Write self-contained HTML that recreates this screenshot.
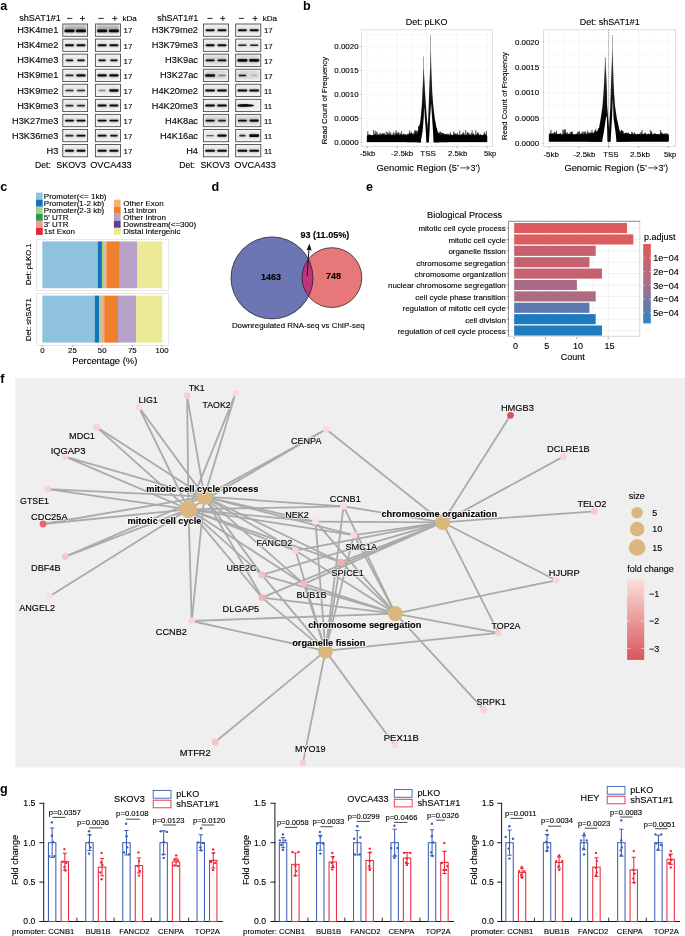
<!DOCTYPE html><html><head><meta charset="utf-8"><title>figure</title>
<style>html,body{margin:0;padding:0;background:#fff;}svg{display:block;will-change:transform;}text{font-family:"Liberation Sans",sans-serif;}</style></head><body>
<svg width="685" height="936" viewBox="0 0 685 936">
<defs>
<filter id="bl" x="-20%" y="-50%" width="140%" height="200%"><feGaussianBlur stdDeviation="0.7"/></filter>
<filter id="bl2" x="-20%" y="-50%" width="140%" height="200%"><feGaussianBlur stdDeviation="1.1"/></filter>
<linearGradient id="gpadj" x1="0" y1="0" x2="0" y2="1"><stop offset="0" stop-color="#e15759"/><stop offset="0.5" stop-color="#a9708a"/><stop offset="1" stop-color="#2c83c3"/></linearGradient>
<linearGradient id="gfc" x1="0" y1="0" x2="0" y2="1"><stop offset="0" stop-color="#fbe0dc"/><stop offset="1" stop-color="#d9555b"/></linearGradient>
<linearGradient id="gpk" gradientUnits="userSpaceOnUse" x1="0" y1="35" x2="0" y2="125"><stop offset="0" stop-color="#000" stop-opacity="0.5"/><stop offset="0.45" stop-color="#000" stop-opacity="0.8"/><stop offset="1" stop-color="#000" stop-opacity="1"/></linearGradient>
</defs>
<rect width="685" height="936" fill="#fff"/>
<text x="0.3" y="9.8" font-size="12.6" font-weight="bold" fill="#000">a</text>
<text x="302.9" y="9.6" font-size="12.6" font-weight="bold" fill="#000">b</text>
<text x="0.3" y="190.7" font-size="12.6" font-weight="bold" fill="#000">c</text>
<text x="211.6" y="191.4" font-size="12.6" font-weight="bold" fill="#000">d</text>
<text x="366.0" y="191.0" font-size="12.6" font-weight="bold" fill="#000">e</text>
<text x="0.3" y="382.8" font-size="12.6" font-weight="bold" fill="#000">f</text>
<text x="0.1" y="793.0" font-size="12.6" font-weight="bold" fill="#000">g</text>
<text x="19.30" y="20.92" font-size="9.0" textLength="41.50" lengthAdjust="spacingAndGlyphs" fill="#000" stroke="#000" stroke-width="0.12">shSAT1#1</text>
<line x1="67.10" y1="18.4" x2="72.30" y2="18.4" stroke="#111" stroke-width="0.9"/>
<line x1="98.50" y1="18.4" x2="103.70" y2="18.4" stroke="#111" stroke-width="0.9"/>
<path d="M80.00 18.4h5M82.50 15.9v5" stroke="#111" stroke-width="0.9" fill="none"/>
<path d="M112.30 18.4h5M114.80 15.9v5" stroke="#111" stroke-width="0.9" fill="none"/>
<text x="122.40" y="21.06" font-size="8.0" textLength="14.40" lengthAdjust="spacingAndGlyphs" fill="#000" stroke="#000" stroke-width="0.12">kDa</text>
<text x="58.30" y="33.31" font-size="9.25" text-anchor="end" fill="#000" stroke="#000" stroke-width="0.12">H3K4me1</text>
<rect x="62.80" y="24.00" width="24.8" height="12.3" fill="#f6f6f6"/>
<rect x="64.30" y="25.20" width="21.8" height="7.5" fill="#9a9a9a" opacity="0.7" filter="url(#bl2)"/>
<rect x="64.30" y="29.30" width="10.40" height="3.20" rx="1.6" fill="#222" opacity="0.35" filter="url(#bl2)"/>
<rect x="64.50" y="29.60" width="10.00" height="2.60" rx="1.3" fill="#0a0a0a" opacity="1" filter="url(#bl)"/>
<rect x="75.80" y="29.30" width="10.40" height="3.20" rx="1.6" fill="#222" opacity="0.35" filter="url(#bl2)"/>
<rect x="76.00" y="29.60" width="10.00" height="2.60" rx="1.3" fill="#0a0a0a" opacity="1" filter="url(#bl)"/>
<rect x="62.80" y="24.00" width="24.8" height="12.3" fill="none" stroke="#444" stroke-width="0.85"/>
<rect x="95.40" y="24.00" width="25.1" height="12.3" fill="#f6f6f6"/>
<rect x="96.90" y="25.20" width="22.1" height="7.5" fill="#9a9a9a" opacity="0.7" filter="url(#bl2)"/>
<rect x="96.90" y="29.30" width="10.40" height="3.20" rx="1.6" fill="#222" opacity="0.35" filter="url(#bl2)"/>
<rect x="97.10" y="29.60" width="10.00" height="2.60" rx="1.3" fill="#0a0a0a" opacity="1" filter="url(#bl)"/>
<rect x="108.70" y="29.30" width="10.40" height="3.20" rx="1.6" fill="#222" opacity="0.35" filter="url(#bl2)"/>
<rect x="108.90" y="29.60" width="10.00" height="2.60" rx="1.3" fill="#0a0a0a" opacity="1" filter="url(#bl)"/>
<rect x="95.40" y="24.00" width="25.1" height="12.3" fill="none" stroke="#444" stroke-width="0.85"/>
<text x="123.60" y="33.49" font-size="7.8" text-anchor="start" fill="#000" stroke="#000" stroke-width="0.12">17</text>
<text x="58.30" y="48.37" font-size="9.25" text-anchor="end" fill="#000" stroke="#000" stroke-width="0.12">H3K4me2</text>
<rect x="62.80" y="39.06" width="24.8" height="12.3" fill="#f6f6f6"/>
<rect x="64.30" y="40.26" width="21.8" height="9" fill="#9a9a9a" opacity="0.12" filter="url(#bl2)"/>
<rect x="64.80" y="44.06" width="9.40" height="2.50" rx="1.25" fill="#222" opacity="0.35" filter="url(#bl2)"/>
<rect x="65.00" y="44.36" width="9.00" height="1.90" rx="0.95" fill="#0a0a0a" opacity="1" filter="url(#bl)"/>
<rect x="76.30" y="44.06" width="9.40" height="2.50" rx="1.25" fill="#222" opacity="0.35" filter="url(#bl2)"/>
<rect x="76.50" y="44.36" width="9.00" height="1.90" rx="0.95" fill="#0a0a0a" opacity="1" filter="url(#bl)"/>
<rect x="62.80" y="39.06" width="24.8" height="12.3" fill="none" stroke="#444" stroke-width="0.85"/>
<rect x="95.40" y="39.06" width="25.1" height="12.3" fill="#f6f6f6"/>
<rect x="96.90" y="40.26" width="22.1" height="9" fill="#9a9a9a" opacity="0.12" filter="url(#bl2)"/>
<rect x="97.40" y="44.06" width="9.40" height="2.50" rx="1.25" fill="#222" opacity="0.35" filter="url(#bl2)"/>
<rect x="97.60" y="44.36" width="9.00" height="1.90" rx="0.95" fill="#0a0a0a" opacity="1" filter="url(#bl)"/>
<rect x="109.20" y="44.06" width="9.40" height="2.50" rx="1.25" fill="#222" opacity="0.35" filter="url(#bl2)"/>
<rect x="109.40" y="44.36" width="9.00" height="1.90" rx="0.95" fill="#0a0a0a" opacity="1" filter="url(#bl)"/>
<rect x="95.40" y="39.06" width="25.1" height="12.3" fill="none" stroke="#444" stroke-width="0.85"/>
<text x="123.60" y="48.55" font-size="7.8" text-anchor="start" fill="#000" stroke="#000" stroke-width="0.12">17</text>
<text x="58.30" y="63.43" font-size="9.25" text-anchor="end" fill="#000" stroke="#000" stroke-width="0.12">H3K4me3</text>
<rect x="62.80" y="54.12" width="24.8" height="12.3" fill="#f6f6f6"/>
<rect x="64.30" y="55.32" width="21.8" height="9" fill="#9a9a9a" opacity="0.12" filter="url(#bl2)"/>
<rect x="65.50" y="59.27" width="8.00" height="2.20" rx="1.1" fill="#222" opacity="0.33" filter="url(#bl2)"/>
<rect x="65.70" y="59.57" width="7.60" height="1.60" rx="0.8" fill="#0a0a0a" opacity="0.95" filter="url(#bl)"/>
<rect x="77.00" y="59.27" width="8.00" height="2.20" rx="1.1" fill="#222" opacity="0.33" filter="url(#bl2)"/>
<rect x="77.20" y="59.57" width="7.60" height="1.60" rx="0.8" fill="#0a0a0a" opacity="0.95" filter="url(#bl)"/>
<rect x="62.80" y="54.12" width="24.8" height="12.3" fill="none" stroke="#444" stroke-width="0.85"/>
<rect x="95.40" y="54.12" width="25.1" height="12.3" fill="#f6f6f6"/>
<rect x="96.90" y="55.32" width="22.1" height="9" fill="#9a9a9a" opacity="0.12" filter="url(#bl2)"/>
<rect x="98.10" y="59.27" width="8.00" height="2.20" rx="1.1" fill="#222" opacity="0.33" filter="url(#bl2)"/>
<rect x="98.30" y="59.57" width="7.60" height="1.60" rx="0.8" fill="#0a0a0a" opacity="0.95" filter="url(#bl)"/>
<rect x="109.90" y="59.27" width="8.00" height="2.20" rx="1.1" fill="#222" opacity="0.33" filter="url(#bl2)"/>
<rect x="110.10" y="59.57" width="7.60" height="1.60" rx="0.8" fill="#0a0a0a" opacity="0.95" filter="url(#bl)"/>
<rect x="95.40" y="54.12" width="25.1" height="12.3" fill="none" stroke="#444" stroke-width="0.85"/>
<text x="123.60" y="63.61" font-size="7.8" text-anchor="start" fill="#000" stroke="#000" stroke-width="0.12">17</text>
<text x="58.30" y="78.49" font-size="9.25" text-anchor="end" fill="#000" stroke="#000" stroke-width="0.12">H3K9me1</text>
<rect x="62.80" y="69.18" width="24.8" height="12.3" fill="#f6f6f6"/>
<rect x="64.30" y="70.38" width="21.8" height="9" fill="#9a9a9a" opacity="0.12" filter="url(#bl2)"/>
<rect x="65.20" y="74.28" width="8.60" height="2.30" rx="1.15" fill="#222" opacity="0.28" filter="url(#bl2)"/>
<rect x="65.40" y="74.58" width="8.20" height="1.70" rx="0.85" fill="#0a0a0a" opacity="0.8" filter="url(#bl)"/>
<rect x="76.10" y="73.98" width="9.80" height="2.90" rx="1.45" fill="#222" opacity="0.35" filter="url(#bl2)"/>
<rect x="76.30" y="74.28" width="9.40" height="2.30" rx="1.15" fill="#0a0a0a" opacity="1" filter="url(#bl)"/>
<rect x="62.80" y="69.18" width="24.8" height="12.3" fill="none" stroke="#444" stroke-width="0.85"/>
<rect x="95.40" y="69.18" width="25.1" height="12.3" fill="#f6f6f6"/>
<rect x="96.90" y="70.38" width="22.1" height="9" fill="#9a9a9a" opacity="0.12" filter="url(#bl2)"/>
<rect x="97.20" y="73.98" width="9.80" height="2.90" rx="1.45" fill="#222" opacity="0.35" filter="url(#bl2)"/>
<rect x="97.40" y="74.28" width="9.40" height="2.30" rx="1.15" fill="#0a0a0a" opacity="1" filter="url(#bl)"/>
<rect x="109.00" y="73.98" width="9.80" height="2.90" rx="1.45" fill="#222" opacity="0.35" filter="url(#bl2)"/>
<rect x="109.20" y="74.28" width="9.40" height="2.30" rx="1.15" fill="#0a0a0a" opacity="1" filter="url(#bl)"/>
<rect x="95.40" y="69.18" width="25.1" height="12.3" fill="none" stroke="#444" stroke-width="0.85"/>
<text x="123.60" y="78.67" font-size="7.8" text-anchor="start" fill="#000" stroke="#000" stroke-width="0.12">17</text>
<text x="58.30" y="93.55" font-size="9.25" text-anchor="end" fill="#000" stroke="#000" stroke-width="0.12">H3K9me2</text>
<rect x="62.80" y="84.24" width="24.8" height="12.3" fill="#f6f6f6"/>
<rect x="64.30" y="85.44" width="21.8" height="9" fill="#9a9a9a" opacity="0.12" filter="url(#bl2)"/>
<rect x="65.20" y="89.34" width="8.60" height="2.30" rx="1.15" fill="#222" opacity="0.28" filter="url(#bl2)"/>
<rect x="65.40" y="89.64" width="8.20" height="1.70" rx="0.85" fill="#0a0a0a" opacity="0.8" filter="url(#bl)"/>
<rect x="76.70" y="89.34" width="8.60" height="2.30" rx="1.15" fill="#222" opacity="0.28" filter="url(#bl2)"/>
<rect x="76.90" y="89.64" width="8.20" height="1.70" rx="0.85" fill="#0a0a0a" opacity="0.8" filter="url(#bl)"/>
<rect x="62.80" y="84.24" width="24.8" height="12.3" fill="none" stroke="#444" stroke-width="0.85"/>
<rect x="95.40" y="84.24" width="25.1" height="12.3" fill="#f6f6f6"/>
<rect x="96.90" y="85.44" width="22.1" height="9" fill="#9a9a9a" opacity="0.12" filter="url(#bl2)"/>
<rect x="98.30" y="89.44" width="7.60" height="2.10" rx="1.05" fill="#222" opacity="0.14" filter="url(#bl2)"/>
<rect x="98.50" y="89.74" width="7.20" height="1.50" rx="0.75" fill="#0a0a0a" opacity="0.4" filter="url(#bl)"/>
<rect x="109.00" y="89.04" width="9.80" height="2.90" rx="1.45" fill="#222" opacity="0.35" filter="url(#bl2)"/>
<rect x="109.20" y="89.34" width="9.40" height="2.30" rx="1.15" fill="#0a0a0a" opacity="1" filter="url(#bl)"/>
<rect x="95.40" y="84.24" width="25.1" height="12.3" fill="none" stroke="#444" stroke-width="0.85"/>
<text x="123.60" y="93.73" font-size="7.8" text-anchor="start" fill="#000" stroke="#000" stroke-width="0.12">17</text>
<text x="58.30" y="108.61" font-size="9.25" text-anchor="end" fill="#000" stroke="#000" stroke-width="0.12">H3K9me3</text>
<rect x="62.80" y="99.30" width="24.8" height="12.3" fill="#f6f6f6"/>
<rect x="64.30" y="100.50" width="21.8" height="9" fill="#9a9a9a" opacity="0.12" filter="url(#bl2)"/>
<rect x="65.20" y="104.40" width="8.60" height="2.30" rx="1.15" fill="#222" opacity="0.28" filter="url(#bl2)"/>
<rect x="65.40" y="104.70" width="8.20" height="1.70" rx="0.85" fill="#0a0a0a" opacity="0.8" filter="url(#bl)"/>
<rect x="76.70" y="104.40" width="8.60" height="2.30" rx="1.15" fill="#222" opacity="0.28" filter="url(#bl2)"/>
<rect x="76.90" y="104.70" width="8.20" height="1.70" rx="0.85" fill="#0a0a0a" opacity="0.8" filter="url(#bl)"/>
<rect x="62.80" y="99.30" width="24.8" height="12.3" fill="none" stroke="#444" stroke-width="0.85"/>
<rect x="95.40" y="99.30" width="25.1" height="12.3" fill="#f6f6f6"/>
<rect x="96.90" y="100.50" width="22.1" height="9" fill="#9a9a9a" opacity="0.12" filter="url(#bl2)"/>
<rect x="97.40" y="104.30" width="9.40" height="2.50" rx="1.25" fill="#222" opacity="0.35" filter="url(#bl2)"/>
<rect x="97.60" y="104.60" width="9.00" height="1.90" rx="0.95" fill="#0a0a0a" opacity="1" filter="url(#bl)"/>
<rect x="109.20" y="104.30" width="9.40" height="2.50" rx="1.25" fill="#222" opacity="0.35" filter="url(#bl2)"/>
<rect x="109.40" y="104.60" width="9.00" height="1.90" rx="0.95" fill="#0a0a0a" opacity="1" filter="url(#bl)"/>
<rect x="95.40" y="99.30" width="25.1" height="12.3" fill="none" stroke="#444" stroke-width="0.85"/>
<text x="123.60" y="108.79" font-size="7.8" text-anchor="start" fill="#000" stroke="#000" stroke-width="0.12">17</text>
<text x="58.30" y="123.67" font-size="9.25" text-anchor="end" fill="#000" stroke="#000" stroke-width="0.12">H3K27me3</text>
<rect x="62.80" y="114.36" width="24.8" height="12.3" fill="#f6f6f6"/>
<rect x="64.30" y="115.56" width="21.8" height="9" fill="#9a9a9a" opacity="0.12" filter="url(#bl2)"/>
<rect x="64.80" y="119.36" width="9.40" height="2.50" rx="1.25" fill="#222" opacity="0.35" filter="url(#bl2)"/>
<rect x="65.00" y="119.66" width="9.00" height="1.90" rx="0.95" fill="#0a0a0a" opacity="1" filter="url(#bl)"/>
<rect x="76.30" y="119.36" width="9.40" height="2.50" rx="1.25" fill="#222" opacity="0.35" filter="url(#bl2)"/>
<rect x="76.50" y="119.66" width="9.00" height="1.90" rx="0.95" fill="#0a0a0a" opacity="1" filter="url(#bl)"/>
<rect x="62.80" y="114.36" width="24.8" height="12.3" fill="none" stroke="#444" stroke-width="0.85"/>
<rect x="95.40" y="114.36" width="25.1" height="12.3" fill="#f6f6f6"/>
<rect x="96.90" y="115.56" width="22.1" height="9" fill="#9a9a9a" opacity="0.12" filter="url(#bl2)"/>
<rect x="97.40" y="119.36" width="9.40" height="2.50" rx="1.25" fill="#222" opacity="0.35" filter="url(#bl2)"/>
<rect x="97.60" y="119.66" width="9.00" height="1.90" rx="0.95" fill="#0a0a0a" opacity="1" filter="url(#bl)"/>
<rect x="109.20" y="119.36" width="9.40" height="2.50" rx="1.25" fill="#222" opacity="0.35" filter="url(#bl2)"/>
<rect x="109.40" y="119.66" width="9.00" height="1.90" rx="0.95" fill="#0a0a0a" opacity="1" filter="url(#bl)"/>
<rect x="95.40" y="114.36" width="25.1" height="12.3" fill="none" stroke="#444" stroke-width="0.85"/>
<text x="123.60" y="123.85" font-size="7.8" text-anchor="start" fill="#000" stroke="#000" stroke-width="0.12">17</text>
<text x="58.30" y="138.73" font-size="9.25" text-anchor="end" fill="#000" stroke="#000" stroke-width="0.12">H3K36me3</text>
<rect x="62.80" y="129.42" width="24.8" height="12.3" fill="#f6f6f6"/>
<rect x="64.30" y="130.62" width="21.8" height="9" fill="#9a9a9a" opacity="0.12" filter="url(#bl2)"/>
<rect x="65.20" y="134.52" width="8.60" height="2.30" rx="1.15" fill="#222" opacity="0.28" filter="url(#bl2)"/>
<rect x="65.40" y="134.82" width="8.20" height="1.70" rx="0.85" fill="#0a0a0a" opacity="0.8" filter="url(#bl)"/>
<rect x="76.30" y="134.42" width="9.40" height="2.50" rx="1.25" fill="#222" opacity="0.35" filter="url(#bl2)"/>
<rect x="76.50" y="134.72" width="9.00" height="1.90" rx="0.95" fill="#0a0a0a" opacity="1" filter="url(#bl)"/>
<rect x="62.80" y="129.42" width="24.8" height="12.3" fill="none" stroke="#444" stroke-width="0.85"/>
<rect x="95.40" y="129.42" width="25.1" height="12.3" fill="#f6f6f6"/>
<rect x="96.90" y="130.62" width="22.1" height="9" fill="#9a9a9a" opacity="0.12" filter="url(#bl2)"/>
<rect x="97.40" y="134.42" width="9.40" height="2.50" rx="1.25" fill="#222" opacity="0.35" filter="url(#bl2)"/>
<rect x="97.60" y="134.72" width="9.00" height="1.90" rx="0.95" fill="#0a0a0a" opacity="1" filter="url(#bl)"/>
<rect x="109.90" y="134.57" width="8.00" height="2.20" rx="1.1" fill="#222" opacity="0.33" filter="url(#bl2)"/>
<rect x="110.10" y="134.87" width="7.60" height="1.60" rx="0.8" fill="#0a0a0a" opacity="0.95" filter="url(#bl)"/>
<rect x="95.40" y="129.42" width="25.1" height="12.3" fill="none" stroke="#444" stroke-width="0.85"/>
<text x="123.60" y="138.91" font-size="7.8" text-anchor="start" fill="#000" stroke="#000" stroke-width="0.12">17</text>
<text x="58.30" y="153.79" font-size="9.25" text-anchor="end" fill="#000" stroke="#000" stroke-width="0.12">H3</text>
<rect x="62.80" y="144.48" width="24.8" height="12.3" fill="#f6f6f6"/>
<rect x="64.30" y="145.68" width="21.8" height="9" fill="#9a9a9a" opacity="0.12" filter="url(#bl2)"/>
<rect x="64.80" y="149.48" width="9.40" height="2.50" rx="1.25" fill="#222" opacity="0.35" filter="url(#bl2)"/>
<rect x="65.00" y="149.78" width="9.00" height="1.90" rx="0.95" fill="#0a0a0a" opacity="1" filter="url(#bl)"/>
<rect x="76.30" y="149.48" width="9.40" height="2.50" rx="1.25" fill="#222" opacity="0.35" filter="url(#bl2)"/>
<rect x="76.50" y="149.78" width="9.00" height="1.90" rx="0.95" fill="#0a0a0a" opacity="1" filter="url(#bl)"/>
<rect x="62.80" y="144.48" width="24.8" height="12.3" fill="none" stroke="#444" stroke-width="0.85"/>
<rect x="95.40" y="144.48" width="25.1" height="12.3" fill="#f6f6f6"/>
<rect x="96.90" y="145.68" width="22.1" height="9" fill="#9a9a9a" opacity="0.12" filter="url(#bl2)"/>
<rect x="97.40" y="149.48" width="9.40" height="2.50" rx="1.25" fill="#222" opacity="0.35" filter="url(#bl2)"/>
<rect x="97.60" y="149.78" width="9.00" height="1.90" rx="0.95" fill="#0a0a0a" opacity="1" filter="url(#bl)"/>
<rect x="109.20" y="149.48" width="9.40" height="2.50" rx="1.25" fill="#222" opacity="0.35" filter="url(#bl2)"/>
<rect x="109.40" y="149.78" width="9.00" height="1.90" rx="0.95" fill="#0a0a0a" opacity="1" filter="url(#bl)"/>
<rect x="95.40" y="144.48" width="25.1" height="12.3" fill="none" stroke="#444" stroke-width="0.85"/>
<text x="123.60" y="153.97" font-size="7.8" text-anchor="start" fill="#000" stroke="#000" stroke-width="0.12">17</text>
<text x="35.10" y="168.02" font-size="9" textLength="15.80" lengthAdjust="spacingAndGlyphs" fill="#000" stroke="#000" stroke-width="0.12">Det:</text>
<text x="56.30" y="168.02" font-size="9" textLength="29.60" lengthAdjust="spacingAndGlyphs" fill="#000" stroke="#000" stroke-width="0.12">SKOV3</text>
<text x="90.20" y="168.02" font-size="9" textLength="41.50" lengthAdjust="spacingAndGlyphs" fill="#000" stroke="#000" stroke-width="0.12">OVCA433</text>
<text x="157.20" y="20.92" font-size="9.0" textLength="40.90" lengthAdjust="spacingAndGlyphs" fill="#000" stroke="#000" stroke-width="0.12">shSAT1#1</text>
<line x1="207.40" y1="18.4" x2="212.60" y2="18.4" stroke="#111" stroke-width="0.9"/>
<line x1="238.80" y1="18.4" x2="244.00" y2="18.4" stroke="#111" stroke-width="0.9"/>
<path d="M220.30 18.4h5M222.80 15.9v5" stroke="#111" stroke-width="0.9" fill="none"/>
<path d="M252.60 18.4h5M255.10 15.9v5" stroke="#111" stroke-width="0.9" fill="none"/>
<text x="262.70" y="21.06" font-size="8.0" textLength="14.40" lengthAdjust="spacingAndGlyphs" fill="#000" stroke="#000" stroke-width="0.12">kDa</text>
<text x="198.00" y="33.31" font-size="9.25" text-anchor="end" fill="#000" stroke="#000" stroke-width="0.12">H3K79me2</text>
<rect x="203.40" y="24.00" width="25.2" height="12.3" fill="#f6f6f6"/>
<rect x="204.90" y="25.20" width="22.2" height="9" fill="#9a9a9a" opacity="0.12" filter="url(#bl2)"/>
<rect x="205.40" y="29.00" width="9.40" height="2.50" rx="1.25" fill="#222" opacity="0.35" filter="url(#bl2)"/>
<rect x="205.60" y="29.30" width="9.00" height="1.90" rx="0.95" fill="#0a0a0a" opacity="1" filter="url(#bl)"/>
<rect x="217.30" y="29.00" width="9.40" height="2.50" rx="1.25" fill="#222" opacity="0.35" filter="url(#bl2)"/>
<rect x="217.50" y="29.30" width="9.00" height="1.90" rx="0.95" fill="#0a0a0a" opacity="1" filter="url(#bl)"/>
<rect x="203.40" y="24.00" width="25.2" height="12.3" fill="none" stroke="#444" stroke-width="0.85"/>
<rect x="235.70" y="24.00" width="25.1" height="12.3" fill="#f6f6f6"/>
<rect x="237.20" y="25.20" width="22.1" height="9" fill="#9a9a9a" opacity="0.12" filter="url(#bl2)"/>
<rect x="237.70" y="29.00" width="9.40" height="2.50" rx="1.25" fill="#222" opacity="0.35" filter="url(#bl2)"/>
<rect x="237.90" y="29.30" width="9.00" height="1.90" rx="0.95" fill="#0a0a0a" opacity="1" filter="url(#bl)"/>
<rect x="249.50" y="29.00" width="9.40" height="2.50" rx="1.25" fill="#222" opacity="0.35" filter="url(#bl2)"/>
<rect x="249.70" y="29.30" width="9.00" height="1.90" rx="0.95" fill="#0a0a0a" opacity="1" filter="url(#bl)"/>
<rect x="235.70" y="24.00" width="25.1" height="12.3" fill="none" stroke="#444" stroke-width="0.85"/>
<text x="263.90" y="33.49" font-size="7.8" text-anchor="start" fill="#000" stroke="#000" stroke-width="0.12">17</text>
<text x="198.00" y="48.37" font-size="9.25" text-anchor="end" fill="#000" stroke="#000" stroke-width="0.12">H3K79me3</text>
<rect x="203.40" y="39.06" width="25.2" height="12.3" fill="#f6f6f6"/>
<rect x="204.90" y="40.26" width="22.2" height="9" fill="#9a9a9a" opacity="0.12" filter="url(#bl2)"/>
<rect x="205.40" y="44.06" width="9.40" height="2.50" rx="1.25" fill="#222" opacity="0.35" filter="url(#bl2)"/>
<rect x="205.60" y="44.36" width="9.00" height="1.90" rx="0.95" fill="#0a0a0a" opacity="1" filter="url(#bl)"/>
<rect x="217.30" y="44.06" width="9.40" height="2.50" rx="1.25" fill="#222" opacity="0.35" filter="url(#bl2)"/>
<rect x="217.50" y="44.36" width="9.00" height="1.90" rx="0.95" fill="#0a0a0a" opacity="1" filter="url(#bl)"/>
<rect x="203.40" y="39.06" width="25.2" height="12.3" fill="none" stroke="#444" stroke-width="0.85"/>
<rect x="235.70" y="39.06" width="25.1" height="12.3" fill="#f6f6f6"/>
<rect x="237.20" y="40.26" width="22.1" height="9" fill="#9a9a9a" opacity="0.12" filter="url(#bl2)"/>
<rect x="238.00" y="44.26" width="8.80" height="2.10" rx="1.05" fill="#222" opacity="0.30" filter="url(#bl2)"/>
<rect x="238.20" y="44.56" width="8.40" height="1.50" rx="0.75" fill="#0a0a0a" opacity="0.85" filter="url(#bl)"/>
<rect x="249.80" y="44.26" width="8.80" height="2.10" rx="1.05" fill="#222" opacity="0.30" filter="url(#bl2)"/>
<rect x="250.00" y="44.56" width="8.40" height="1.50" rx="0.75" fill="#0a0a0a" opacity="0.85" filter="url(#bl)"/>
<rect x="235.70" y="39.06" width="25.1" height="12.3" fill="none" stroke="#444" stroke-width="0.85"/>
<text x="263.90" y="48.55" font-size="7.8" text-anchor="start" fill="#000" stroke="#000" stroke-width="0.12">17</text>
<text x="198.00" y="63.43" font-size="9.25" text-anchor="end" fill="#000" stroke="#000" stroke-width="0.12">H3K9ac</text>
<rect x="203.40" y="54.12" width="25.2" height="12.3" fill="#f6f6f6"/>
<rect x="204.90" y="55.32" width="22.2" height="9" fill="#9a9a9a" opacity="0.3" filter="url(#bl2)"/>
<rect x="205.40" y="59.12" width="9.40" height="2.50" rx="1.25" fill="#222" opacity="0.35" filter="url(#bl2)"/>
<rect x="205.60" y="59.42" width="9.00" height="1.90" rx="0.95" fill="#0a0a0a" opacity="1" filter="url(#bl)"/>
<rect x="217.30" y="59.12" width="9.40" height="2.50" rx="1.25" fill="#222" opacity="0.35" filter="url(#bl2)"/>
<rect x="217.50" y="59.42" width="9.00" height="1.90" rx="0.95" fill="#0a0a0a" opacity="1" filter="url(#bl)"/>
<rect x="203.40" y="54.12" width="25.2" height="12.3" fill="none" stroke="#444" stroke-width="0.85"/>
<rect x="235.70" y="54.12" width="25.1" height="12.3" fill="#f6f6f6"/>
<rect x="237.20" y="55.32" width="22.1" height="9" fill="#9a9a9a" opacity="0.3" filter="url(#bl2)"/>
<rect x="237.20" y="58.77" width="10.40" height="3.20" rx="1.6" fill="#222" opacity="0.35" filter="url(#bl2)"/>
<rect x="237.40" y="59.07" width="10.00" height="2.60" rx="1.3" fill="#0a0a0a" opacity="1" filter="url(#bl)"/>
<rect x="249.00" y="58.77" width="10.40" height="3.20" rx="1.6" fill="#222" opacity="0.35" filter="url(#bl2)"/>
<rect x="249.20" y="59.07" width="10.00" height="2.60" rx="1.3" fill="#0a0a0a" opacity="1" filter="url(#bl)"/>
<rect x="235.70" y="54.12" width="25.1" height="12.3" fill="none" stroke="#444" stroke-width="0.85"/>
<text x="263.90" y="63.61" font-size="7.8" text-anchor="start" fill="#000" stroke="#000" stroke-width="0.12">17</text>
<text x="198.00" y="78.49" font-size="9.25" text-anchor="end" fill="#000" stroke="#000" stroke-width="0.12">H3K27ac</text>
<rect x="203.40" y="69.18" width="25.2" height="12.3" fill="#f6f6f6"/>
<rect x="204.90" y="70.38" width="22.2" height="9" fill="#9a9a9a" opacity="0.3" filter="url(#bl2)"/>
<rect x="204.90" y="73.83" width="10.40" height="3.20" rx="1.6" fill="#222" opacity="0.35" filter="url(#bl2)"/>
<rect x="205.10" y="74.13" width="10.00" height="2.60" rx="1.3" fill="#0a0a0a" opacity="1" filter="url(#bl)"/>
<rect x="218.20" y="74.38" width="7.60" height="2.10" rx="1.05" fill="#222" opacity="0.14" filter="url(#bl2)"/>
<rect x="218.40" y="74.68" width="7.20" height="1.50" rx="0.75" fill="#0a0a0a" opacity="0.4" filter="url(#bl)"/>
<rect x="203.40" y="69.18" width="25.2" height="12.3" fill="none" stroke="#444" stroke-width="0.85"/>
<rect x="235.70" y="69.18" width="25.1" height="12.3" fill="#f6f6f6"/>
<rect x="237.20" y="70.38" width="22.1" height="9" fill="#9a9a9a" opacity="0.3" filter="url(#bl2)"/>
<rect x="238.40" y="74.33" width="8.00" height="2.20" rx="1.1" fill="#222" opacity="0.33" filter="url(#bl2)"/>
<rect x="238.60" y="74.63" width="7.60" height="1.60" rx="0.8" fill="#0a0a0a" opacity="0.95" filter="url(#bl)"/>
<rect x="251.00" y="74.33" width="6.40" height="2.20" rx="1.1" fill="#222" opacity="0.05" filter="url(#bl2)"/>
<rect x="251.20" y="74.63" width="6.00" height="1.60" rx="0.8" fill="#0a0a0a" opacity="0.15" filter="url(#bl)"/>
<rect x="235.70" y="69.18" width="25.1" height="12.3" fill="none" stroke="#444" stroke-width="0.85"/>
<text x="263.90" y="78.67" font-size="7.8" text-anchor="start" fill="#000" stroke="#000" stroke-width="0.12">17</text>
<text x="198.00" y="93.55" font-size="9.25" text-anchor="end" fill="#000" stroke="#000" stroke-width="0.12">H4K20me2</text>
<rect x="203.40" y="84.24" width="25.2" height="12.3" fill="#f6f6f6"/>
<rect x="204.90" y="85.44" width="22.2" height="9" fill="#9a9a9a" opacity="0.12" filter="url(#bl2)"/>
<rect x="205.00" y="89.24" width="10.20" height="2.50" rx="1.25" fill="#222" opacity="0.35" filter="url(#bl2)"/>
<rect x="205.20" y="89.54" width="9.80" height="1.90" rx="0.95" fill="#0a0a0a" opacity="1" filter="url(#bl)"/>
<rect x="216.90" y="89.24" width="10.20" height="2.50" rx="1.25" fill="#222" opacity="0.35" filter="url(#bl2)"/>
<rect x="217.10" y="89.54" width="9.80" height="1.90" rx="0.95" fill="#0a0a0a" opacity="1" filter="url(#bl)"/>
<rect x="203.40" y="84.24" width="25.2" height="12.3" fill="none" stroke="#444" stroke-width="0.85"/>
<rect x="235.70" y="84.24" width="25.1" height="12.3" fill="#f6f6f6"/>
<rect x="237.20" y="85.44" width="22.1" height="9" fill="#9a9a9a" opacity="0.12" filter="url(#bl2)"/>
<rect x="237.30" y="89.24" width="10.20" height="2.50" rx="1.25" fill="#222" opacity="0.35" filter="url(#bl2)"/>
<rect x="237.50" y="89.54" width="9.80" height="1.90" rx="0.95" fill="#0a0a0a" opacity="1" filter="url(#bl)"/>
<rect x="249.10" y="89.24" width="10.20" height="2.50" rx="1.25" fill="#222" opacity="0.35" filter="url(#bl2)"/>
<rect x="249.30" y="89.54" width="9.80" height="1.90" rx="0.95" fill="#0a0a0a" opacity="1" filter="url(#bl)"/>
<rect x="235.70" y="84.24" width="25.1" height="12.3" fill="none" stroke="#444" stroke-width="0.85"/>
<text x="263.90" y="93.73" font-size="7.8" text-anchor="start" fill="#000" stroke="#000" stroke-width="0.12">11</text>
<text x="198.00" y="108.61" font-size="9.25" text-anchor="end" fill="#000" stroke="#000" stroke-width="0.12">H4K20me3</text>
<rect x="203.40" y="99.30" width="25.2" height="12.3" fill="#f6f6f6"/>
<rect x="204.90" y="100.50" width="22.2" height="9" fill="#9a9a9a" opacity="0.12" filter="url(#bl2)"/>
<rect x="205.00" y="104.30" width="10.20" height="2.50" rx="1.25" fill="#222" opacity="0.35" filter="url(#bl2)"/>
<rect x="205.20" y="104.60" width="9.80" height="1.90" rx="0.95" fill="#0a0a0a" opacity="1" filter="url(#bl)"/>
<rect x="216.90" y="104.30" width="10.20" height="2.50" rx="1.25" fill="#222" opacity="0.35" filter="url(#bl2)"/>
<rect x="217.10" y="104.60" width="9.80" height="1.90" rx="0.95" fill="#0a0a0a" opacity="1" filter="url(#bl)"/>
<rect x="203.40" y="99.30" width="25.2" height="12.3" fill="none" stroke="#444" stroke-width="0.85"/>
<rect x="235.70" y="99.30" width="25.1" height="12.3" fill="#f6f6f6"/>
<rect x="237.20" y="100.50" width="22.1" height="9" fill="#9a9a9a" opacity="0.12" filter="url(#bl2)"/>
<rect x="237.30" y="104.30" width="10.20" height="2.50" rx="1.25" fill="#222" opacity="0.35" filter="url(#bl2)"/>
<rect x="237.50" y="104.60" width="9.80" height="1.90" rx="0.95" fill="#0a0a0a" opacity="1" filter="url(#bl)"/>
<rect x="235.70" y="99.30" width="25.1" height="12.3" fill="none" stroke="#444" stroke-width="0.85"/>
<text x="263.90" y="108.79" font-size="7.8" text-anchor="start" fill="#000" stroke="#000" stroke-width="0.12">11</text>
<text x="198.00" y="123.67" font-size="9.25" text-anchor="end" fill="#000" stroke="#000" stroke-width="0.12">H4K8ac</text>
<rect x="203.40" y="114.36" width="25.2" height="12.3" fill="#f6f6f6"/>
<rect x="204.90" y="115.56" width="22.2" height="9" fill="#9a9a9a" opacity="0.3" filter="url(#bl2)"/>
<rect x="205.40" y="119.36" width="9.40" height="2.50" rx="1.25" fill="#222" opacity="0.35" filter="url(#bl2)"/>
<rect x="205.60" y="119.66" width="9.00" height="1.90" rx="0.95" fill="#0a0a0a" opacity="1" filter="url(#bl)"/>
<rect x="217.80" y="119.51" width="8.40" height="2.20" rx="1.1" fill="#222" opacity="0.30" filter="url(#bl2)"/>
<rect x="218.00" y="119.81" width="8.00" height="1.60" rx="0.8" fill="#0a0a0a" opacity="0.85" filter="url(#bl)"/>
<rect x="203.40" y="114.36" width="25.2" height="12.3" fill="none" stroke="#444" stroke-width="0.85"/>
<rect x="235.70" y="114.36" width="25.1" height="12.3" fill="#f6f6f6"/>
<rect x="237.20" y="115.56" width="22.1" height="9" fill="#9a9a9a" opacity="0.3" filter="url(#bl2)"/>
<rect x="237.70" y="119.36" width="9.40" height="2.50" rx="1.25" fill="#222" opacity="0.35" filter="url(#bl2)"/>
<rect x="237.90" y="119.66" width="9.00" height="1.90" rx="0.95" fill="#0a0a0a" opacity="1" filter="url(#bl)"/>
<rect x="249.30" y="119.16" width="9.80" height="2.90" rx="1.45" fill="#222" opacity="0.35" filter="url(#bl2)"/>
<rect x="249.50" y="119.46" width="9.40" height="2.30" rx="1.15" fill="#0a0a0a" opacity="1" filter="url(#bl)"/>
<rect x="235.70" y="114.36" width="25.1" height="12.3" fill="none" stroke="#444" stroke-width="0.85"/>
<text x="263.90" y="123.85" font-size="7.8" text-anchor="start" fill="#000" stroke="#000" stroke-width="0.12">11</text>
<text x="198.00" y="138.73" font-size="9.25" text-anchor="end" fill="#000" stroke="#000" stroke-width="0.12">H4K16ac</text>
<rect x="203.40" y="129.42" width="25.2" height="12.3" fill="#f6f6f6"/>
<rect x="204.90" y="130.62" width="22.2" height="9" fill="#9a9a9a" opacity="0.12" filter="url(#bl2)"/>
<rect x="206.10" y="134.67" width="8.00" height="2.00" rx="1.0" fill="#222" opacity="0.19" filter="url(#bl2)"/>
<rect x="206.30" y="134.97" width="7.60" height="1.40" rx="0.7" fill="#0a0a0a" opacity="0.55" filter="url(#bl)"/>
<rect x="217.10" y="134.22" width="9.80" height="2.90" rx="1.45" fill="#222" opacity="0.35" filter="url(#bl2)"/>
<rect x="217.30" y="134.52" width="9.40" height="2.30" rx="1.15" fill="#0a0a0a" opacity="1" filter="url(#bl)"/>
<rect x="203.40" y="129.42" width="25.2" height="12.3" fill="none" stroke="#444" stroke-width="0.85"/>
<rect x="235.70" y="129.42" width="25.1" height="12.3" fill="#f6f6f6"/>
<rect x="237.20" y="130.62" width="22.1" height="9" fill="#9a9a9a" opacity="0.12" filter="url(#bl2)"/>
<rect x="239.00" y="134.57" width="6.80" height="2.20" rx="1.1" fill="#222" opacity="0.28" filter="url(#bl2)"/>
<rect x="239.20" y="134.87" width="6.40" height="1.60" rx="0.8" fill="#0a0a0a" opacity="0.8" filter="url(#bl)"/>
<rect x="249.00" y="134.07" width="10.40" height="3.20" rx="1.6" fill="#222" opacity="0.35" filter="url(#bl2)"/>
<rect x="249.20" y="134.37" width="10.00" height="2.60" rx="1.3" fill="#0a0a0a" opacity="1" filter="url(#bl)"/>
<rect x="235.70" y="129.42" width="25.1" height="12.3" fill="none" stroke="#444" stroke-width="0.85"/>
<text x="263.90" y="138.91" font-size="7.8" text-anchor="start" fill="#000" stroke="#000" stroke-width="0.12">11</text>
<text x="198.00" y="153.79" font-size="9.25" text-anchor="end" fill="#000" stroke="#000" stroke-width="0.12">H4</text>
<rect x="203.40" y="144.48" width="25.2" height="12.3" fill="#f6f6f6"/>
<rect x="204.90" y="145.68" width="22.2" height="9" fill="#9a9a9a" opacity="0.12" filter="url(#bl2)"/>
<rect x="205.00" y="149.48" width="10.20" height="2.50" rx="1.25" fill="#222" opacity="0.35" filter="url(#bl2)"/>
<rect x="205.20" y="149.78" width="9.80" height="1.90" rx="0.95" fill="#0a0a0a" opacity="1" filter="url(#bl)"/>
<rect x="216.90" y="149.48" width="10.20" height="2.50" rx="1.25" fill="#222" opacity="0.35" filter="url(#bl2)"/>
<rect x="217.10" y="149.78" width="9.80" height="1.90" rx="0.95" fill="#0a0a0a" opacity="1" filter="url(#bl)"/>
<rect x="203.40" y="144.48" width="25.2" height="12.3" fill="none" stroke="#444" stroke-width="0.85"/>
<rect x="235.70" y="144.48" width="25.1" height="12.3" fill="#f6f6f6"/>
<rect x="237.20" y="145.68" width="22.1" height="9" fill="#9a9a9a" opacity="0.12" filter="url(#bl2)"/>
<rect x="237.30" y="149.48" width="10.20" height="2.50" rx="1.25" fill="#222" opacity="0.35" filter="url(#bl2)"/>
<rect x="237.50" y="149.78" width="9.80" height="1.90" rx="0.95" fill="#0a0a0a" opacity="1" filter="url(#bl)"/>
<rect x="249.10" y="149.48" width="10.20" height="2.50" rx="1.25" fill="#222" opacity="0.35" filter="url(#bl2)"/>
<rect x="249.30" y="149.78" width="9.80" height="1.90" rx="0.95" fill="#0a0a0a" opacity="1" filter="url(#bl)"/>
<rect x="235.70" y="144.48" width="25.1" height="12.3" fill="none" stroke="#444" stroke-width="0.85"/>
<text x="263.90" y="153.97" font-size="7.8" text-anchor="start" fill="#000" stroke="#000" stroke-width="0.12">11</text>
<text x="179.20" y="168.02" font-size="9" textLength="15.80" lengthAdjust="spacingAndGlyphs" fill="#000" stroke="#000" stroke-width="0.12">Det:</text>
<text x="200.40" y="168.02" font-size="9" textLength="29.60" lengthAdjust="spacingAndGlyphs" fill="#000" stroke="#000" stroke-width="0.12">SKOV3</text>
<text x="234.30" y="168.02" font-size="9" textLength="41.50" lengthAdjust="spacingAndGlyphs" fill="#000" stroke="#000" stroke-width="0.12">OVCA433</text>
<ellipse cx="246.30" cy="105.40" rx="8" ry="1.4" fill="#0a0a0a" filter="url(#bl)"/>
<rect x="361.3" y="29.8" width="131.40" height="116.80" fill="#fff" stroke="none"/>
<line x1="367.20" y1="29.8" x2="367.20" y2="146.6" stroke="#ebebeb" stroke-width="0.5"/>
<line x1="382.16" y1="29.8" x2="382.16" y2="146.6" stroke="#ebebeb" stroke-width="0.3"/>
<line x1="397.12" y1="29.8" x2="397.12" y2="146.6" stroke="#ebebeb" stroke-width="0.5"/>
<line x1="412.09" y1="29.8" x2="412.09" y2="146.6" stroke="#ebebeb" stroke-width="0.3"/>
<line x1="427.05" y1="29.8" x2="427.05" y2="146.6" stroke="#ebebeb" stroke-width="0.5"/>
<line x1="442.01" y1="29.8" x2="442.01" y2="146.6" stroke="#ebebeb" stroke-width="0.3"/>
<line x1="456.97" y1="29.8" x2="456.97" y2="146.6" stroke="#ebebeb" stroke-width="0.5"/>
<line x1="471.94" y1="29.8" x2="471.94" y2="146.6" stroke="#ebebeb" stroke-width="0.3"/>
<line x1="486.90" y1="29.8" x2="486.90" y2="146.6" stroke="#ebebeb" stroke-width="0.5"/>
<line x1="361.3" y1="142.30" x2="492.7" y2="142.30" stroke="#ebebeb" stroke-width="0.5"/>
<line x1="361.3" y1="130.33" x2="492.7" y2="130.33" stroke="#ebebeb" stroke-width="0.3"/>
<line x1="361.3" y1="118.35" x2="492.7" y2="118.35" stroke="#ebebeb" stroke-width="0.5"/>
<line x1="361.3" y1="106.38" x2="492.7" y2="106.38" stroke="#ebebeb" stroke-width="0.3"/>
<line x1="361.3" y1="94.40" x2="492.7" y2="94.40" stroke="#ebebeb" stroke-width="0.5"/>
<line x1="361.3" y1="82.43" x2="492.7" y2="82.43" stroke="#ebebeb" stroke-width="0.3"/>
<line x1="361.3" y1="70.45" x2="492.7" y2="70.45" stroke="#ebebeb" stroke-width="0.5"/>
<line x1="361.3" y1="58.48" x2="492.7" y2="58.48" stroke="#ebebeb" stroke-width="0.3"/>
<line x1="361.3" y1="46.50" x2="492.7" y2="46.50" stroke="#ebebeb" stroke-width="0.5"/>
<line x1="361.3" y1="34.53" x2="492.7" y2="34.53" stroke="#ebebeb" stroke-width="0.3"/>
<rect x="361.3" y="29.8" width="131.40" height="116.80" fill="none" stroke="#d0d0d0" stroke-width="0.7"/>
<line x1="367.20" y1="146.6" x2="367.20" y2="148.2" stroke="#555" stroke-width="0.5"/>
<line x1="397.12" y1="146.6" x2="397.12" y2="148.2" stroke="#555" stroke-width="0.5"/>
<line x1="427.05" y1="146.6" x2="427.05" y2="148.2" stroke="#555" stroke-width="0.5"/>
<line x1="456.97" y1="146.6" x2="456.97" y2="148.2" stroke="#555" stroke-width="0.5"/>
<line x1="486.90" y1="146.6" x2="486.90" y2="148.2" stroke="#555" stroke-width="0.5"/>
<line x1="359.7" y1="142.30" x2="361.3" y2="142.30" stroke="#999" stroke-width="0.5"/>
<text x="334.30" y="145.13" font-size="7.9" textLength="24.30" lengthAdjust="spacingAndGlyphs" fill="#000" stroke="#000" stroke-width="0.12">0.0000</text>
<line x1="359.7" y1="118.35" x2="361.3" y2="118.35" stroke="#999" stroke-width="0.5"/>
<text x="334.30" y="121.18" font-size="7.9" textLength="24.30" lengthAdjust="spacingAndGlyphs" fill="#000" stroke="#000" stroke-width="0.12">0.0005</text>
<line x1="359.7" y1="94.40" x2="361.3" y2="94.40" stroke="#999" stroke-width="0.5"/>
<text x="334.30" y="97.23" font-size="7.9" textLength="24.30" lengthAdjust="spacingAndGlyphs" fill="#000" stroke="#000" stroke-width="0.12">0.0010</text>
<line x1="359.7" y1="70.45" x2="361.3" y2="70.45" stroke="#999" stroke-width="0.5"/>
<text x="334.30" y="73.28" font-size="7.9" textLength="24.30" lengthAdjust="spacingAndGlyphs" fill="#000" stroke="#000" stroke-width="0.12">0.0015</text>
<line x1="359.7" y1="46.50" x2="361.3" y2="46.50" stroke="#999" stroke-width="0.5"/>
<text x="334.30" y="49.33" font-size="7.9" textLength="24.30" lengthAdjust="spacingAndGlyphs" fill="#000" stroke="#000" stroke-width="0.12">0.0020</text>
<polyline points="367.20,142.00 367.32,135.88 367.44,142.00 367.56,135.31 367.68,142.00 367.80,131.42 367.92,142.00 368.04,135.54 368.16,142.00 368.28,134.98 368.40,142.00 368.52,134.91 368.64,142.00 368.76,134.73 368.88,142.00 369.00,134.83 369.12,142.00 369.23,135.76 369.35,142.00 369.47,135.50 369.59,142.00 369.71,134.49 369.83,142.00 369.95,134.68 370.07,142.00 370.19,135.73 370.31,142.00 370.43,135.18 370.55,142.00 370.67,135.55 370.79,142.00 370.91,135.63 371.03,142.00 371.15,135.33 371.27,142.00 371.39,135.01 371.51,142.00 371.63,135.37 371.75,142.00 371.87,135.67 371.99,142.00 372.11,135.84 372.23,142.00 372.35,135.60 372.47,142.00 372.59,135.23 372.71,142.00 372.83,135.74 372.95,142.00 373.07,135.96 373.19,142.00 373.30,135.41 373.42,142.00 373.54,130.13 373.66,142.00 373.78,135.43 373.90,142.00 374.02,134.47 374.14,142.00 374.26,135.64 374.38,142.00 374.50,134.75 374.62,142.00 374.74,134.92 374.86,142.00 374.98,134.08 375.10,142.00 375.22,130.81 375.34,142.00 375.46,134.45 375.58,142.00 375.70,134.68 375.82,142.00 375.94,135.59 376.06,142.00 376.18,132.05 376.30,142.00 376.42,135.97 376.54,142.00 376.66,134.84 376.78,142.00 376.90,135.83 377.02,142.00 377.14,131.69 377.25,142.00 377.37,135.28 377.49,142.00 377.61,134.49 377.73,142.00 377.85,135.29 377.97,142.00 378.09,134.56 378.21,142.00 378.33,134.45 378.45,142.00 378.57,134.67 378.69,142.00 378.81,135.44 378.93,142.00 379.05,135.00 379.17,142.00 379.29,135.58 379.41,142.00 379.53,133.92 379.65,142.00 379.77,135.86 379.89,142.00 380.01,134.78 380.13,142.00 380.25,132.65 380.37,142.00 380.49,135.74 380.61,142.00 380.73,135.54 380.85,142.00 380.97,134.65 381.09,142.00 381.20,135.31 381.32,142.00 381.44,134.43 381.56,142.00 381.68,135.44 381.80,142.00 381.92,133.78 382.04,142.00 382.16,135.26 382.28,142.00 382.40,132.99 382.52,142.00 382.64,135.20 382.76,142.00 382.88,135.36 383.00,142.00 383.12,133.58 383.24,142.00 383.36,134.42 383.48,142.00 383.60,134.57 383.72,142.00 383.84,133.26 383.96,142.00 384.08,135.63 384.20,142.00 384.32,135.11 384.44,142.00 384.56,133.52 384.68,142.00 384.80,135.60 384.92,142.00 385.04,134.44 385.15,142.00 385.27,135.01 385.39,142.00 385.51,135.51 385.63,142.00 385.75,134.89 385.87,142.00 385.99,135.33 386.11,142.00 386.23,131.57 386.35,142.00 386.47,135.77 386.59,142.00 386.71,134.87 386.83,142.00 386.95,135.21 387.07,142.00 387.19,134.66 387.31,142.00 387.43,132.32 387.55,142.00 387.67,135.32 387.79,142.00 387.91,135.60 388.03,142.00 388.15,133.07 388.27,142.00 388.39,134.84 388.51,142.00 388.63,134.52 388.75,142.00 388.87,134.44 388.99,142.00 389.11,135.73 389.22,142.00 389.34,131.43 389.46,142.00 389.58,135.85 389.70,142.00 389.82,135.34 389.94,142.00 390.06,134.45 390.18,142.00 390.30,135.60 390.42,142.00 390.54,133.80 390.66,142.00 390.78,132.46 390.90,142.00 391.02,135.16 391.14,142.00 391.26,135.27 391.38,142.00 391.50,134.97 391.62,142.00 391.74,135.82 391.86,142.00 391.98,135.04 392.10,142.00 392.22,135.24 392.34,142.00 392.46,135.20 392.58,142.00 392.70,135.64 392.82,142.00 392.94,133.51 393.06,142.00 393.17,135.63 393.29,142.00 393.41,135.64 393.53,142.00 393.65,133.65 393.77,142.00 393.89,132.19 394.01,142.00 394.13,134.81 394.25,142.00 394.37,135.73 394.49,142.00 394.61,135.67 394.73,142.00 394.85,135.24 394.97,142.00 395.09,135.95 395.21,142.00 395.33,133.47 395.45,142.00 395.57,134.47 395.69,142.00 395.81,133.79 395.93,142.00 396.05,130.31 396.17,142.00 396.29,134.52 396.41,142.00 396.53,135.48 396.65,142.00 396.77,134.80 396.89,142.00 397.01,132.06 397.12,142.00 397.24,134.86 397.36,142.00 397.48,133.21 397.60,142.00 397.72,134.93 397.84,142.00 397.96,135.07 398.08,142.00 398.20,134.71 398.32,142.00 398.44,133.01 398.56,142.00 398.68,132.23 398.80,142.00 398.92,134.49 399.04,142.00 399.16,135.77 399.28,142.00 399.40,135.98 399.52,142.00 399.64,134.73 399.76,142.00 399.88,134.98 400.00,142.00 400.12,132.88 400.24,142.00 400.36,134.41 400.48,142.00 400.60,134.56 400.72,142.00 400.84,135.98 400.96,142.00 401.08,135.41 401.19,142.00 401.31,135.83 401.43,142.00 401.55,131.25 401.67,142.00 401.79,134.62 401.91,142.00 402.03,134.67 402.15,142.00 402.27,135.80 402.39,142.00 402.51,134.79 402.63,142.00 402.75,135.00 402.87,142.00 402.99,135.29 403.11,142.00 403.23,133.68 403.35,142.00 403.47,135.31 403.59,142.00 403.71,134.00 403.83,142.00 403.95,134.48 404.07,142.00 404.19,134.43 404.31,142.00 404.43,134.51 404.55,142.00 404.67,135.22 404.79,142.00 404.91,135.19 405.03,142.00 405.14,134.51 405.26,142.00 405.38,134.09 405.50,142.00 405.62,134.99 405.74,142.00 405.86,134.78 405.98,142.00 406.10,135.59 406.22,142.00 406.34,136.00 406.46,142.00 406.58,134.57 406.70,142.00 406.82,135.43 406.94,142.00 407.06,135.67 407.18,142.00 407.30,135.85 407.42,142.00 407.54,135.98 407.66,142.00 407.78,133.90 407.90,142.00 408.02,135.62 408.14,142.00 408.26,135.77 408.38,142.00 408.50,135.72 408.62,142.00 408.74,134.20 408.86,142.00 408.98,135.83 409.09,142.00 409.21,134.86 409.33,142.00 409.45,132.69 409.57,142.00 409.69,130.62 409.81,142.00 409.93,134.55 410.05,142.00 410.17,133.83 410.29,142.00 410.41,135.00 410.53,142.00 410.65,134.51 410.77,142.00 410.89,134.99 411.01,142.00 411.13,132.55 411.25,142.00 411.37,135.67 411.49,142.00 411.61,134.99 411.73,142.00 411.85,135.32 411.97,142.00 412.09,134.46 412.21,142.00 412.33,134.47 412.45,142.00 412.57,135.45 412.69,142.00 412.81,135.21 412.93,142.00 413.05,134.67 413.16,142.00 413.28,135.20 413.40,142.00 413.52,135.00 413.64,142.00 413.76,135.96 413.88,142.00 414.00,134.59 414.12,142.00 414.24,135.44 414.36,142.00 414.48,135.73 414.60,142.00 414.72,134.58 414.84,142.00 414.96,135.74 415.08,142.00 415.20,131.55 415.32,142.00 415.44,132.62 415.56,142.00 415.68,135.60 415.80,142.00 415.92,134.88 416.04,142.00 416.16,134.35 416.28,142.00 416.40,132.70 416.52,142.00 416.64,134.90 416.76,142.00 416.88,134.45 417.00,142.00 417.11,134.62 417.23,142.00 417.35,134.44 417.47,142.00 417.59,130.66 417.71,142.00 417.83,133.85 417.95,142.00 418.07,134.41 418.19,142.00 418.31,134.06 418.43,142.00 418.55,133.63 418.67,142.00 418.79,132.71 418.91,142.00 419.03,131.11 419.15,142.00 419.27,131.29 419.39,142.00 419.51,131.07 419.63,142.00 419.75,132.68 419.87,142.00 419.99,131.51 420.11,142.00 420.23,128.51 420.35,142.00 420.47,131.58 420.59,142.00 420.71,131.10 420.83,142.00 420.95,125.69 421.06,142.00 421.18,125.98 421.30,142.00 421.42,128.77 421.54,142.00 421.66,126.56 421.78,142.00 421.90,124.82 422.02,142.00 422.14,122.87 422.26,142.00 422.38,116.47 422.50,142.00 422.62,123.66 422.74,142.00 422.86,121.93 422.98,142.00 423.10,120.00 423.22,142.00 423.34,120.83 423.46,142.00 423.58,114.76 423.70,142.00 423.82,123.67 423.94,142.00 424.06,114.92 424.18,142.00 424.30,119.46 424.42,142.00 424.54,119.62 424.66,142.00 424.78,124.74 424.90,142.00 425.02,123.32 425.13,142.00 425.25,139.30 425.37,142.00 425.49,139.30 425.61,142.00 425.73,139.30 425.85,142.00 425.97,139.30 426.09,142.00 426.21,139.30 426.33,142.00 426.45,139.30 426.57,142.00 426.69,139.30 426.81,142.00 426.93,139.30 427.05,142.00 427.17,139.30 427.29,142.00 427.41,139.30 427.53,142.00 427.65,139.30 427.77,142.00 427.89,139.30 428.01,142.00 428.13,139.30 428.25,142.00 428.37,139.30 428.49,142.00 428.61,139.30 428.73,142.00 428.85,139.30 428.97,142.00 429.08,126.75 429.20,142.00 429.32,124.90 429.44,142.00 429.56,125.81 429.68,142.00 429.80,122.88 429.92,142.00 430.04,124.40 430.16,142.00 430.28,125.80 430.40,142.00 430.52,114.32 430.64,142.00 430.76,124.71 430.88,142.00 431.00,117.03 431.12,142.00 431.24,125.74 431.36,142.00 431.48,119.74 431.60,142.00 431.72,127.19 431.84,142.00 431.96,121.62 432.08,142.00 432.20,124.42 432.32,142.00 432.44,127.24 432.56,142.00 432.68,129.94 432.80,142.00 432.92,126.11 433.03,142.00 433.15,131.21 433.27,142.00 433.39,127.85 433.51,142.00 433.63,130.94 433.75,142.00 433.87,129.85 433.99,142.00 434.11,127.92 434.23,142.00 434.35,132.13 434.47,142.00 434.59,129.73 434.71,142.00 434.83,130.48 434.95,142.00 435.07,132.67 435.19,142.00 435.31,133.22 435.43,142.00 435.55,133.99 435.67,142.00 435.79,132.17 435.91,142.00 436.03,133.49 436.15,142.00 436.27,133.18 436.39,142.00 436.51,134.56 436.63,142.00 436.75,134.69 436.87,142.00 436.99,134.19 437.10,142.00 437.22,134.70 437.34,142.00 437.46,135.43 437.58,142.00 437.70,135.41 437.82,142.00 437.94,133.96 438.06,142.00 438.18,135.43 438.30,142.00 438.42,135.68 438.54,142.00 438.66,134.02 438.78,142.00 438.90,135.44 439.02,142.00 439.14,135.91 439.26,142.00 439.38,134.99 439.50,142.00 439.62,135.97 439.74,142.00 439.86,134.50 439.98,142.00 440.10,131.40 440.22,142.00 440.34,135.54 440.46,142.00 440.58,135.18 440.70,142.00 440.82,135.79 440.94,142.00 441.05,133.66 441.17,142.00 441.29,135.26 441.41,142.00 441.53,135.65 441.65,142.00 441.77,134.62 441.89,142.00 442.01,135.15 442.13,142.00 442.25,135.38 442.37,142.00 442.49,134.82 442.61,142.00 442.73,133.40 442.85,142.00 442.97,132.91 443.09,142.00 443.21,134.46 443.33,142.00 443.45,135.28 443.57,142.00 443.69,135.38 443.81,142.00 443.93,135.71 444.05,142.00 444.17,134.53 444.29,142.00 444.41,134.54 444.53,142.00 444.65,134.76 444.77,142.00 444.89,135.38 445.00,142.00 445.12,135.84 445.24,142.00 445.36,134.46 445.48,142.00 445.60,134.69 445.72,142.00 445.84,134.57 445.96,142.00 446.08,135.54 446.20,142.00 446.32,135.03 446.44,142.00 446.56,134.74 446.68,142.00 446.80,135.06 446.92,142.00 447.04,134.97 447.16,142.00 447.28,135.49 447.40,142.00 447.52,134.87 447.64,142.00 447.76,135.43 447.88,142.00 448.00,135.28 448.12,142.00 448.24,135.30 448.36,142.00 448.48,133.83 448.60,142.00 448.72,135.61 448.84,142.00 448.96,134.64 449.07,142.00 449.19,135.53 449.31,142.00 449.43,135.90 449.55,142.00 449.67,135.55 449.79,142.00 449.91,134.87 450.03,142.00 450.15,134.28 450.27,142.00 450.39,132.35 450.51,142.00 450.63,134.17 450.75,142.00 450.87,134.60 450.99,142.00 451.11,135.38 451.23,142.00 451.35,134.95 451.47,142.00 451.59,135.20 451.71,142.00 451.83,134.85 451.95,142.00 452.07,135.79 452.19,142.00 452.31,135.34 452.43,142.00 452.55,135.71 452.67,142.00 452.79,135.74 452.91,142.00 453.02,134.98 453.14,142.00 453.26,134.91 453.38,142.00 453.50,134.63 453.62,142.00 453.74,131.47 453.86,142.00 453.98,134.67 454.10,142.00 454.22,132.90 454.34,142.00 454.46,135.31 454.58,142.00 454.70,134.71 454.82,142.00 454.94,135.60 455.06,142.00 455.18,134.17 455.30,142.00 455.42,134.50 455.54,142.00 455.66,134.15 455.78,142.00 455.90,133.27 456.02,142.00 456.14,135.90 456.26,142.00 456.38,135.48 456.50,142.00 456.62,134.21 456.74,142.00 456.86,135.22 456.97,142.00 457.09,134.97 457.21,142.00 457.33,135.78 457.45,142.00 457.57,132.75 457.69,142.00 457.81,134.94 457.93,142.00 458.05,135.62 458.17,142.00 458.29,134.49 458.41,142.00 458.53,135.87 458.65,142.00 458.77,135.30 458.89,142.00 459.01,135.32 459.13,142.00 459.25,135.30 459.37,142.00 459.49,135.29 459.61,142.00 459.73,130.49 459.85,142.00 459.97,135.90 460.09,142.00 460.21,135.23 460.33,142.00 460.45,134.91 460.57,142.00 460.69,135.33 460.81,142.00 460.93,134.58 461.04,142.00 461.16,135.15 461.28,142.00 461.40,135.82 461.52,142.00 461.64,133.98 461.76,142.00 461.88,134.85 462.00,142.00 462.12,134.77 462.24,142.00 462.36,135.98 462.48,142.00 462.60,133.66 462.72,142.00 462.84,133.82 462.96,142.00 463.08,134.38 463.20,142.00 463.32,131.89 463.44,142.00 463.56,135.07 463.68,142.00 463.80,135.54 463.92,142.00 464.04,133.16 464.16,142.00 464.28,134.72 464.40,142.00 464.52,135.24 464.64,142.00 464.76,135.47 464.88,142.00 464.99,135.42 465.11,142.00 465.23,135.07 465.35,142.00 465.47,134.93 465.59,142.00 465.71,130.08 465.83,142.00 465.95,134.99 466.07,142.00 466.19,134.91 466.31,142.00 466.43,135.44 466.55,142.00 466.67,134.42 466.79,142.00 466.91,135.78 467.03,142.00 467.15,135.52 467.27,142.00 467.39,132.39 467.51,142.00 467.63,132.29 467.75,142.00 467.87,134.56 467.99,142.00 468.11,134.87 468.23,142.00 468.35,134.96 468.47,142.00 468.59,133.89 468.71,142.00 468.83,132.71 468.94,142.00 469.06,134.91 469.18,142.00 469.30,135.46 469.42,142.00 469.54,134.52 469.66,142.00 469.78,135.47 469.90,142.00 470.02,135.32 470.14,142.00 470.26,134.85 470.38,142.00 470.50,134.44 470.62,142.00 470.74,135.24 470.86,142.00 470.98,135.86 471.10,142.00 471.22,132.89 471.34,142.00 471.46,135.37 471.58,142.00 471.70,134.72 471.82,142.00 471.94,135.90 472.06,142.00 472.18,130.44 472.30,142.00 472.42,135.31 472.54,142.00 472.66,134.41 472.78,142.00 472.90,134.12 473.01,142.00 473.13,135.04 473.25,142.00 473.37,133.35 473.49,142.00 473.61,134.29 473.73,142.00 473.85,134.91 473.97,142.00 474.09,135.95 474.21,142.00 474.33,135.63 474.45,142.00 474.57,135.81 474.69,142.00 474.81,134.56 474.93,142.00 475.05,135.44 475.17,142.00 475.29,135.58 475.41,142.00 475.53,135.42 475.65,142.00 475.77,130.25 475.89,142.00 476.01,134.44 476.13,142.00 476.25,135.99 476.37,142.00 476.49,135.61 476.61,142.00 476.73,134.89 476.85,142.00 476.96,133.95 477.08,142.00 477.20,134.81 477.32,142.00 477.44,134.92 477.56,142.00 477.68,132.37 477.80,142.00 477.92,132.37 478.04,142.00 478.16,134.68 478.28,142.00 478.40,133.43 478.52,142.00 478.64,134.18 478.76,142.00 478.88,134.89 479.00,142.00 479.12,135.41 479.24,142.00 479.36,135.97 479.48,142.00 479.60,135.56 479.72,142.00 479.84,134.63 479.96,142.00 480.08,135.93 480.20,142.00 480.32,134.12 480.44,142.00 480.56,134.86 480.68,142.00 480.80,135.39 480.91,142.00 481.03,135.26 481.15,142.00 481.27,135.30 481.39,142.00 481.51,135.36 481.63,142.00 481.75,135.65 481.87,142.00 481.99,135.10 482.11,142.00 482.23,134.89 482.35,142.00 482.47,135.47 482.59,142.00 482.71,135.50 482.83,142.00 482.95,135.92 483.07,142.00 483.19,135.92 483.31,142.00 483.43,134.93 483.55,142.00 483.67,135.15 483.79,142.00 483.91,133.61 484.03,142.00 484.15,135.91 484.27,142.00 484.39,132.19 484.51,142.00 484.63,135.53 484.75,142.00 484.87,133.57 484.98,142.00 485.10,134.90 485.22,142.00 485.34,135.53 485.46,142.00 485.58,134.54 485.70,142.00 485.82,135.95 485.94,142.00 486.06,134.23 486.18,142.00 486.30,131.01 486.42,142.00 486.54,135.85 486.66,142.00 486.78,135.78 486.90,142.00" fill="none" stroke="#000" stroke-width="0.42" stroke-linejoin="miter"/>
<rect x="367.20" y="135.90" width="54.40" height="6.2" fill="#000"/>
<rect x="432.90" y="135.90" width="54.00" height="6.2" fill="#000"/>
<rect x="420.0" y="129.80" width="1" height="12.50" fill="#000" opacity="0.84"/>
<rect x="419.0" y="124.78" width="1" height="17.52" fill="#000" opacity="0.74"/>
<rect x="418.0" y="126.28" width="1" height="16.02" fill="#000" opacity="0.86"/>
<rect x="417.0" y="131.69" width="1" height="10.61" fill="#000" opacity="0.73"/>
<rect x="416.0" y="130.55" width="1" height="11.75" fill="#000" opacity="0.70"/>
<rect x="415.0" y="130.15" width="1" height="12.15" fill="#000" opacity="0.67"/>
<rect x="414.0" y="130.71" width="1" height="11.59" fill="#000" opacity="0.72"/>
<rect x="413.0" y="133.34" width="1" height="8.96" fill="#000" opacity="0.82"/>
<rect x="412.0" y="133.58" width="1" height="8.72" fill="#000" opacity="0.82"/>
<rect x="411.0" y="132.39" width="1" height="9.91" fill="#000" opacity="0.84"/>
<rect x="410.0" y="133.42" width="1" height="8.88" fill="#000" opacity="0.61"/>
<rect x="409.0" y="133.63" width="1" height="8.67" fill="#000" opacity="0.64"/>
<rect x="408.0" y="133.71" width="1" height="8.59" fill="#000" opacity="0.65"/>
<rect x="407.0" y="134.06" width="1" height="8.24" fill="#000" opacity="0.74"/>
<rect x="433.0" y="127.27" width="1" height="15.03" fill="#000" opacity="0.87"/>
<rect x="434.0" y="129.65" width="1" height="12.65" fill="#000" opacity="0.67"/>
<rect x="435.0" y="126.16" width="1" height="16.14" fill="#000" opacity="0.73"/>
<rect x="436.0" y="127.84" width="1" height="14.46" fill="#000" opacity="0.95"/>
<rect x="437.0" y="130.35" width="1" height="11.95" fill="#000" opacity="0.66"/>
<rect x="438.0" y="132.45" width="1" height="9.85" fill="#000" opacity="0.95"/>
<rect x="439.0" y="132.80" width="1" height="9.50" fill="#000" opacity="0.80"/>
<rect x="440.0" y="131.99" width="1" height="10.31" fill="#000" opacity="0.65"/>
<rect x="441.0" y="132.64" width="1" height="9.66" fill="#000" opacity="0.67"/>
<rect x="442.0" y="132.88" width="1" height="9.42" fill="#000" opacity="0.80"/>
<rect x="443.0" y="133.57" width="1" height="8.73" fill="#000" opacity="0.68"/>
<rect x="444.0" y="133.78" width="1" height="8.52" fill="#000" opacity="0.68"/>
<rect x="445.0" y="134.44" width="1" height="7.86" fill="#000" opacity="0.70"/>
<rect x="446.0" y="133.67" width="1" height="8.63" fill="#000" opacity="0.80"/>
<rect x="447.0" y="133.91" width="1" height="8.39" fill="#000" opacity="0.61"/>
<polygon points="423.12,56.50 423.12,67.80 422.85,80.40 422.25,93.00 421.65,105.70 420.50,118.30 418.75,130.90 417.35,137.00 417.35,142.30 428.65,142.30 428.45,137.00 428.15,130.90 427.00,118.30 426.10,105.70 425.25,93.00 424.60,80.40 423.88,67.80 423.88,56.50" fill="#000" opacity="0.28"/>
<polygon points="423.38,56.50 423.38,67.80 423.10,80.40 422.50,93.00 421.90,105.70 420.75,118.30 419.00,130.90 417.60,137.00 417.60,142.30 428.40,142.30 428.20,137.00 427.90,130.90 426.75,118.30 425.85,105.70 425.00,93.00 424.35,80.40 423.62,67.80 423.62,56.50" fill="url(#gpk)"/>
<polygon points="424.10,108.00 423.70,118.30 422.65,130.90 421.10,139.70 420.90,142.80 426.30,142.80 426.20,139.70 425.80,130.90 424.90,118.30 424.30,108.00" fill="#fff"/>
<polygon points="430.23,35.00 430.23,48.90 429.95,67.80 429.45,80.40 428.95,93.00 428.55,105.70 428.15,118.30 427.15,130.90 426.85,137.00 426.75,142.30 438.55,142.30 438.55,137.00 437.25,130.90 434.90,118.30 433.45,105.70 432.45,93.00 431.95,80.40 431.45,67.80 430.98,48.90 430.98,35.00" fill="#000" opacity="0.28"/>
<polygon points="430.48,35.00 430.48,48.90 430.20,67.80 429.70,80.40 429.20,93.00 428.80,105.70 428.40,118.30 427.40,130.90 427.10,137.00 427.00,142.30 438.30,142.30 438.30,137.00 437.00,130.90 434.65,118.30 433.20,105.70 432.20,93.00 431.70,80.40 431.20,67.80 430.73,48.90 430.73,35.00" fill="url(#gpk)"/>
<polygon points="431.00,104.50 430.00,118.30 429.60,130.90 429.00,139.70 428.90,142.80 433.50,142.80 433.40,139.70 433.00,130.90 432.10,118.30 431.20,104.50" fill="#fff"/>
<text x="426.60" y="24.80" font-size="8.95" text-anchor="middle" fill="#000" stroke="#000" stroke-width="0.12">Det: pLKO</text>
<text x="324.60" y="103.33" font-size="7.62" text-anchor="middle" fill="#000" stroke="#000" stroke-width="0.12" transform="rotate(-90 324.60 100.60)">Read Count of Frequency</text>
<text x="359.90" y="156.33" font-size="7.9" textLength="15.40" lengthAdjust="spacingAndGlyphs" fill="#000" stroke="#000" stroke-width="0.12">-5kb</text>
<text x="391.10" y="156.33" font-size="7.9" textLength="22.20" lengthAdjust="spacingAndGlyphs" fill="#000" stroke="#000" stroke-width="0.12">-2.5kb</text>
<text x="420.30" y="156.33" font-size="7.9" textLength="15.50" lengthAdjust="spacingAndGlyphs" fill="#000" stroke="#000" stroke-width="0.12">TSS</text>
<text x="448.00" y="156.33" font-size="7.9" textLength="19.30" lengthAdjust="spacingAndGlyphs" fill="#000" stroke="#000" stroke-width="0.12">2.5kb</text>
<text x="483.90" y="156.33" font-size="7.9" textLength="12.30" lengthAdjust="spacingAndGlyphs" fill="#000" stroke="#000" stroke-width="0.12">5kp</text>
<text x="376.50" y="170.93" font-size="9.3" textLength="82.60" lengthAdjust="spacingAndGlyphs" fill="#000" stroke="#000" stroke-width="0.12">Genomic Region (5’</text>
<path d="M460.30 167.9H469.10M466.70 165.9L469.40 167.9L466.70 169.9" stroke="#151515" stroke-width="0.75" fill="none"/>
<text x="470.80" y="170.93" font-size="9.3" textLength="9.30" lengthAdjust="spacingAndGlyphs" fill="#000" stroke="#000" stroke-width="0.12">3’)</text>
<rect x="543.4" y="29.8" width="132.00" height="116.80" fill="#fff" stroke="none"/>
<line x1="549.20" y1="29.8" x2="549.20" y2="146.6" stroke="#ebebeb" stroke-width="0.5"/>
<line x1="564.10" y1="29.8" x2="564.10" y2="146.6" stroke="#ebebeb" stroke-width="0.3"/>
<line x1="579.00" y1="29.8" x2="579.00" y2="146.6" stroke="#ebebeb" stroke-width="0.5"/>
<line x1="593.90" y1="29.8" x2="593.90" y2="146.6" stroke="#ebebeb" stroke-width="0.3"/>
<line x1="608.80" y1="29.8" x2="608.80" y2="146.6" stroke="#ebebeb" stroke-width="0.5"/>
<line x1="623.70" y1="29.8" x2="623.70" y2="146.6" stroke="#ebebeb" stroke-width="0.3"/>
<line x1="638.60" y1="29.8" x2="638.60" y2="146.6" stroke="#ebebeb" stroke-width="0.5"/>
<line x1="653.50" y1="29.8" x2="653.50" y2="146.6" stroke="#ebebeb" stroke-width="0.3"/>
<line x1="668.40" y1="29.8" x2="668.40" y2="146.6" stroke="#ebebeb" stroke-width="0.5"/>
<line x1="543.4" y1="143.40" x2="675.4" y2="143.40" stroke="#ebebeb" stroke-width="0.5"/>
<line x1="543.4" y1="130.70" x2="675.4" y2="130.70" stroke="#ebebeb" stroke-width="0.3"/>
<line x1="543.4" y1="118.00" x2="675.4" y2="118.00" stroke="#ebebeb" stroke-width="0.5"/>
<line x1="543.4" y1="105.30" x2="675.4" y2="105.30" stroke="#ebebeb" stroke-width="0.3"/>
<line x1="543.4" y1="92.60" x2="675.4" y2="92.60" stroke="#ebebeb" stroke-width="0.5"/>
<line x1="543.4" y1="79.90" x2="675.4" y2="79.90" stroke="#ebebeb" stroke-width="0.3"/>
<line x1="543.4" y1="67.20" x2="675.4" y2="67.20" stroke="#ebebeb" stroke-width="0.5"/>
<line x1="543.4" y1="54.50" x2="675.4" y2="54.50" stroke="#ebebeb" stroke-width="0.3"/>
<line x1="543.4" y1="41.80" x2="675.4" y2="41.80" stroke="#ebebeb" stroke-width="0.5"/>
<rect x="543.4" y="29.8" width="132.00" height="116.80" fill="none" stroke="#d0d0d0" stroke-width="0.7"/>
<line x1="549.20" y1="146.6" x2="549.20" y2="148.2" stroke="#555" stroke-width="0.5"/>
<line x1="579.00" y1="146.6" x2="579.00" y2="148.2" stroke="#555" stroke-width="0.5"/>
<line x1="608.80" y1="146.6" x2="608.80" y2="148.2" stroke="#555" stroke-width="0.5"/>
<line x1="638.60" y1="146.6" x2="638.60" y2="148.2" stroke="#555" stroke-width="0.5"/>
<line x1="668.40" y1="146.6" x2="668.40" y2="148.2" stroke="#555" stroke-width="0.5"/>
<line x1="541.8" y1="143.40" x2="543.4" y2="143.40" stroke="#999" stroke-width="0.5"/>
<text x="514.90" y="146.23" font-size="7.9" textLength="24.30" lengthAdjust="spacingAndGlyphs" fill="#000" stroke="#000" stroke-width="0.12">0.0000</text>
<line x1="541.8" y1="118.00" x2="543.4" y2="118.00" stroke="#999" stroke-width="0.5"/>
<text x="514.90" y="120.83" font-size="7.9" textLength="24.30" lengthAdjust="spacingAndGlyphs" fill="#000" stroke="#000" stroke-width="0.12">0.0005</text>
<line x1="541.8" y1="92.60" x2="543.4" y2="92.60" stroke="#999" stroke-width="0.5"/>
<text x="514.90" y="95.43" font-size="7.9" textLength="24.30" lengthAdjust="spacingAndGlyphs" fill="#000" stroke="#000" stroke-width="0.12">0.0010</text>
<line x1="541.8" y1="67.20" x2="543.4" y2="67.20" stroke="#999" stroke-width="0.5"/>
<text x="514.90" y="70.03" font-size="7.9" textLength="24.30" lengthAdjust="spacingAndGlyphs" fill="#000" stroke="#000" stroke-width="0.12">0.0015</text>
<line x1="541.8" y1="41.80" x2="543.4" y2="41.80" stroke="#999" stroke-width="0.5"/>
<text x="514.90" y="44.63" font-size="7.9" textLength="24.30" lengthAdjust="spacingAndGlyphs" fill="#000" stroke="#000" stroke-width="0.12">0.0020</text>
<polyline points="549.20,141.30 549.32,134.39 549.44,141.30 549.56,135.25 549.68,141.30 549.80,134.93 549.92,141.30 550.03,132.69 550.15,141.30 550.27,133.02 550.39,141.30 550.51,133.28 550.63,141.30 550.75,134.95 550.87,141.30 550.99,129.85 551.11,141.30 551.23,134.04 551.35,141.30 551.46,133.90 551.58,141.30 551.70,134.02 551.82,141.30 551.94,133.76 552.06,141.30 552.18,133.96 552.30,141.30 552.42,133.85 552.54,141.30 552.66,132.82 552.78,141.30 552.90,133.95 553.01,141.30 553.13,134.63 553.25,141.30 553.37,133.95 553.49,141.30 553.61,134.59 553.73,141.30 553.85,133.98 553.97,141.30 554.09,133.88 554.21,141.30 554.33,132.31 554.44,141.30 554.56,131.88 554.68,141.30 554.80,133.18 554.92,141.30 555.04,134.30 555.16,141.30 555.28,134.70 555.40,141.30 555.52,133.74 555.64,141.30 555.76,132.35 555.88,141.30 555.99,133.43 556.11,141.30 556.23,134.10 556.35,141.30 556.47,130.79 556.59,141.30 556.71,134.16 556.83,141.30 556.95,134.03 557.07,141.30 557.19,135.03 557.31,141.30 557.42,133.76 557.54,141.30 557.66,134.60 557.78,141.30 557.90,134.87 558.02,141.30 558.14,134.80 558.26,141.30 558.38,134.10 558.50,141.30 558.62,134.29 558.74,141.30 558.86,133.80 558.97,141.30 559.09,134.22 559.21,141.30 559.33,133.75 559.45,141.30 559.57,134.11 559.69,141.30 559.81,133.91 559.93,141.30 560.05,135.19 560.17,141.30 560.29,134.65 560.40,141.30 560.52,133.02 560.64,141.30 560.76,133.89 560.88,141.30 561.00,135.19 561.12,141.30 561.24,135.15 561.36,141.30 561.48,134.40 561.60,141.30 561.72,135.21 561.84,141.30 561.95,135.12 562.07,141.30 562.19,134.45 562.31,141.30 562.43,134.06 562.55,141.30 562.67,134.14 562.79,141.30 562.91,129.52 563.03,141.30 563.15,135.09 563.27,141.30 563.38,135.00 563.50,141.30 563.62,134.51 563.74,141.30 563.86,129.68 563.98,141.30 564.10,132.41 564.22,141.30 564.34,133.71 564.46,141.30 564.58,134.01 564.70,141.30 564.82,129.76 564.93,141.30 565.05,134.40 565.17,141.30 565.29,129.13 565.41,141.30 565.53,133.95 565.65,141.30 565.77,133.40 565.89,141.30 566.01,134.78 566.13,141.30 566.25,132.03 566.36,141.30 566.48,134.57 566.60,141.30 566.72,134.14 566.84,141.30 566.96,134.92 567.08,141.30 567.20,134.34 567.32,141.30 567.44,132.52 567.56,141.30 567.68,134.02 567.80,141.30 567.91,133.81 568.03,141.30 568.15,134.09 568.27,141.30 568.39,135.04 568.51,141.30 568.63,133.94 568.75,141.30 568.87,134.02 568.99,141.30 569.11,135.23 569.23,141.30 569.34,134.26 569.46,141.30 569.58,133.11 569.70,141.30 569.82,134.08 569.94,141.30 570.06,135.12 570.18,141.30 570.30,134.32 570.42,141.30 570.54,134.15 570.66,141.30 570.78,131.92 570.89,141.30 571.01,134.78 571.13,141.30 571.25,131.69 571.37,141.30 571.49,135.27 571.61,141.30 571.73,132.15 571.85,141.30 571.97,134.71 572.09,141.30 572.21,131.47 572.32,141.30 572.44,133.29 572.56,141.30 572.68,134.20 572.80,141.30 572.92,135.26 573.04,141.30 573.16,134.25 573.28,141.30 573.40,135.28 573.52,141.30 573.64,134.20 573.76,141.30 573.87,134.65 573.99,141.30 574.11,134.68 574.23,141.30 574.35,134.86 574.47,141.30 574.59,134.36 574.71,141.30 574.83,134.69 574.95,141.30 575.07,133.94 575.19,141.30 575.30,134.90 575.42,141.30 575.54,134.84 575.66,141.30 575.78,134.69 575.90,141.30 576.02,133.96 576.14,141.30 576.26,134.16 576.38,141.30 576.50,134.60 576.62,141.30 576.74,134.41 576.85,141.30 576.97,133.50 577.09,141.30 577.21,133.92 577.33,141.30 577.45,135.18 577.57,141.30 577.69,131.87 577.81,141.30 577.93,135.26 578.05,141.30 578.17,134.33 578.28,141.30 578.40,132.56 578.52,141.30 578.64,135.24 578.76,141.30 578.88,134.66 579.00,141.30 579.12,131.21 579.24,141.30 579.36,131.83 579.48,141.30 579.60,134.75 579.72,141.30 579.83,135.30 579.95,141.30 580.07,135.08 580.19,141.30 580.31,134.46 580.43,141.30 580.55,134.36 580.67,141.30 580.79,133.77 580.91,141.30 581.03,135.13 581.15,141.30 581.26,132.52 581.38,141.30 581.50,134.25 581.62,141.30 581.74,133.86 581.86,141.30 581.98,134.71 582.10,141.30 582.22,134.20 582.34,141.30 582.46,133.21 582.58,141.30 582.70,131.42 582.81,141.30 582.93,135.10 583.05,141.30 583.17,134.65 583.29,141.30 583.41,134.17 583.53,141.30 583.65,135.04 583.77,141.30 583.89,131.97 584.01,141.30 584.13,132.24 584.24,141.30 584.36,134.14 584.48,141.30 584.60,135.29 584.72,141.30 584.84,131.77 584.96,141.30 585.08,134.53 585.20,141.30 585.32,134.30 585.44,141.30 585.56,131.48 585.68,141.30 585.79,134.15 585.91,141.30 586.03,133.06 586.15,141.30 586.27,134.40 586.39,141.30 586.51,134.91 586.63,141.30 586.75,134.95 586.87,141.30 586.99,134.97 587.11,141.30 587.22,132.35 587.34,141.30 587.46,134.15 587.58,141.30 587.70,130.40 587.82,141.30 587.94,134.47 588.06,141.30 588.18,134.68 588.30,141.30 588.42,132.69 588.54,141.30 588.66,135.13 588.77,141.30 588.89,133.84 589.01,141.30 589.13,133.05 589.25,141.30 589.37,135.22 589.49,141.30 589.61,135.04 589.73,141.30 589.85,134.62 589.97,141.30 590.09,131.94 590.20,141.30 590.32,132.79 590.44,141.30 590.56,134.76 590.68,141.30 590.80,134.79 590.92,141.30 591.04,132.61 591.16,141.30 591.28,133.78 591.40,141.30 591.52,134.70 591.64,141.30 591.75,134.64 591.87,141.30 591.99,129.89 592.11,141.30 592.23,134.37 592.35,141.30 592.47,133.61 592.59,141.30 592.71,133.91 592.83,141.30 592.95,134.96 593.07,141.30 593.18,134.03 593.30,141.30 593.42,132.37 593.54,141.30 593.66,134.13 593.78,141.30 593.90,133.97 594.02,141.30 594.14,134.72 594.26,141.30 594.38,135.24 594.50,141.30 594.62,132.57 594.73,141.30 594.85,130.83 594.97,141.30 595.09,134.33 595.21,141.30 595.33,130.25 595.45,141.30 595.57,133.91 595.69,141.30 595.81,128.92 595.93,141.30 596.05,133.27 596.16,141.30 596.28,134.48 596.40,141.30 596.52,134.10 596.64,141.30 596.76,133.85 596.88,141.30 597.00,132.62 597.12,141.30 597.24,133.52 597.36,141.30 597.48,134.10 597.60,141.30 597.71,134.70 597.83,141.30 597.95,134.31 598.07,141.30 598.19,134.27 598.31,141.30 598.43,130.90 598.55,141.30 598.67,134.13 598.79,141.30 598.91,133.50 599.03,141.30 599.14,134.02 599.26,141.30 599.38,131.52 599.50,141.30 599.62,133.64 599.74,141.30 599.86,133.31 599.98,141.30 600.10,132.26 600.22,141.30 600.34,132.34 600.46,141.30 600.58,132.51 600.69,141.30 600.81,133.50 600.93,141.30 601.05,131.89 601.17,141.30 601.29,129.60 601.41,141.30 601.53,131.28 601.65,141.30 601.77,132.18 601.89,141.30 602.01,129.98 602.12,141.30 602.24,130.30 602.36,141.30 602.48,130.68 602.60,141.30 602.72,128.03 602.84,141.30 602.96,127.62 603.08,141.30 603.20,128.48 603.32,141.30 603.44,127.43 603.56,141.30 603.67,120.53 603.79,141.30 603.91,121.06 604.03,141.30 604.15,120.62 604.27,141.30 604.39,123.88 604.51,141.30 604.63,118.02 604.75,141.30 604.87,116.22 604.99,141.30 605.10,115.53 605.22,141.30 605.34,115.17 605.46,141.30 605.58,113.74 605.70,141.30 605.82,121.18 605.94,141.30 606.06,115.30 606.18,141.30 606.30,122.32 606.42,141.30 606.54,120.78 606.65,141.30 606.77,121.54 606.89,141.30 607.01,138.60 607.13,141.30 607.25,138.60 607.37,141.30 607.49,138.60 607.61,141.30 607.73,138.60 607.85,141.30 607.97,138.60 608.08,141.30 608.20,138.60 608.32,141.30 608.44,138.60 608.56,141.30 608.68,138.60 608.80,141.30 608.92,138.60 609.04,141.30 609.16,138.60 609.28,141.30 609.40,138.60 609.52,141.30 609.63,138.60 609.75,141.30 609.87,138.60 609.99,141.30 610.11,138.60 610.23,141.30 610.35,138.60 610.47,141.30 610.59,138.60 610.71,141.30 610.83,138.60 610.95,141.30 611.06,120.40 611.18,141.30 611.30,123.53 611.42,141.30 611.54,121.70 611.66,141.30 611.78,121.82 611.90,141.30 612.02,116.97 612.14,141.30 612.26,120.90 612.38,141.30 612.50,116.95 612.61,141.30 612.73,121.56 612.85,141.30 612.97,114.95 613.09,141.30 613.21,117.97 613.33,141.30 613.45,124.88 613.57,141.30 613.69,121.02 613.81,141.30 613.93,122.30 614.04,141.30 614.16,128.09 614.28,141.30 614.40,126.04 614.52,141.30 614.64,124.07 614.76,141.30 614.88,126.23 615.00,141.30 615.12,129.14 615.24,141.30 615.36,126.06 615.48,141.30 615.59,129.06 615.71,141.30 615.83,127.55 615.95,141.30 616.07,129.36 616.19,141.30 616.31,131.63 616.43,141.30 616.55,128.19 616.67,141.30 616.79,131.39 616.91,141.30 617.02,132.37 617.14,141.30 617.26,132.85 617.38,141.30 617.50,131.31 617.62,141.30 617.74,132.98 617.86,141.30 617.98,133.69 618.10,141.30 618.22,133.14 618.34,141.30 618.46,133.45 618.57,141.30 618.69,132.91 618.81,141.30 618.93,132.73 619.05,141.30 619.17,131.54 619.29,141.30 619.41,133.42 619.53,141.30 619.65,132.67 619.77,141.30 619.89,133.66 620.00,141.30 620.12,134.56 620.24,141.30 620.36,134.22 620.48,141.30 620.60,132.75 620.72,141.30 620.84,135.21 620.96,141.30 621.08,134.95 621.20,141.30 621.32,134.33 621.44,141.30 621.55,134.00 621.67,141.30 621.79,134.94 621.91,141.30 622.03,134.02 622.15,141.30 622.27,135.15 622.39,141.30 622.51,134.71 622.63,141.30 622.75,135.03 622.87,141.30 622.98,134.73 623.10,141.30 623.22,133.77 623.34,141.30 623.46,133.96 623.58,141.30 623.70,135.04 623.82,141.30 623.94,134.04 624.06,141.30 624.18,133.76 624.30,141.30 624.42,135.02 624.53,141.30 624.65,134.32 624.77,141.30 624.89,134.53 625.01,141.30 625.13,132.94 625.25,141.30 625.37,134.72 625.49,141.30 625.61,134.32 625.73,141.30 625.85,133.77 625.96,141.30 626.08,134.20 626.20,141.30 626.32,134.76 626.44,141.30 626.56,134.83 626.68,141.30 626.80,134.03 626.92,141.30 627.04,133.82 627.16,141.30 627.28,133.46 627.40,141.30 627.51,133.97 627.63,141.30 627.75,133.77 627.87,141.30 627.99,133.25 628.11,141.30 628.23,134.46 628.35,141.30 628.47,134.14 628.59,141.30 628.71,134.53 628.83,141.30 628.94,134.02 629.06,141.30 629.18,134.40 629.30,141.30 629.42,134.60 629.54,141.30 629.66,134.48 629.78,141.30 629.90,135.01 630.02,141.30 630.14,134.45 630.26,141.30 630.38,134.39 630.49,141.30 630.61,134.93 630.73,141.30 630.85,134.27 630.97,141.30 631.09,133.91 631.21,141.30 631.33,134.52 631.45,141.30 631.57,134.14 631.69,141.30 631.81,131.79 631.92,141.30 632.04,134.67 632.16,141.30 632.28,132.61 632.40,141.30 632.52,134.65 632.64,141.30 632.76,134.22 632.88,141.30 633.00,133.16 633.12,141.30 633.24,134.27 633.36,141.30 633.47,134.34 633.59,141.30 633.71,134.81 633.83,141.30 633.95,134.37 634.07,141.30 634.19,135.10 634.31,141.30 634.43,132.28 634.55,141.30 634.67,134.85 634.79,141.30 634.90,134.08 635.02,141.30 635.14,133.86 635.26,141.30 635.38,133.84 635.50,141.30 635.62,135.13 635.74,141.30 635.86,134.54 635.98,141.30 636.10,134.99 636.22,141.30 636.34,134.80 636.45,141.30 636.57,133.92 636.69,141.30 636.81,134.86 636.93,141.30 637.05,134.82 637.17,141.30 637.29,135.12 637.41,141.30 637.53,133.87 637.65,141.30 637.77,134.00 637.88,141.30 638.00,134.41 638.12,141.30 638.24,134.99 638.36,141.30 638.48,134.54 638.60,141.30 638.72,134.67 638.84,141.30 638.96,134.39 639.08,141.30 639.20,133.98 639.32,141.30 639.43,133.73 639.55,141.30 639.67,134.23 639.79,141.30 639.91,135.14 640.03,141.30 640.15,134.82 640.27,141.30 640.39,134.38 640.51,141.30 640.63,135.26 640.75,141.30 640.86,132.00 640.98,141.30 641.10,133.32 641.22,141.30 641.34,134.87 641.46,141.30 641.58,134.29 641.70,141.30 641.82,133.82 641.94,141.30 642.06,129.94 642.18,141.30 642.30,133.71 642.41,141.30 642.53,134.51 642.65,141.30 642.77,134.29 642.89,141.30 643.01,135.27 643.13,141.30 643.25,134.05 643.37,141.30 643.49,134.27 643.61,141.30 643.73,135.28 643.84,141.30 643.96,133.96 644.08,141.30 644.20,134.31 644.32,141.30 644.44,133.22 644.56,141.30 644.68,133.61 644.80,141.30 644.92,133.38 645.04,141.30 645.16,134.31 645.28,141.30 645.39,132.79 645.51,141.30 645.63,134.54 645.75,141.30 645.87,133.90 645.99,141.30 646.11,134.92 646.23,141.30 646.35,134.78 646.47,141.30 646.59,134.68 646.71,141.30 646.82,133.80 646.94,141.30 647.06,134.66 647.18,141.30 647.30,135.09 647.42,141.30 647.54,134.49 647.66,141.30 647.78,134.00 647.90,141.30 648.02,134.06 648.14,141.30 648.26,133.83 648.37,141.30 648.49,134.90 648.61,141.30 648.73,134.22 648.85,141.30 648.97,133.73 649.09,141.30 649.21,133.89 649.33,141.30 649.45,135.17 649.57,141.30 649.69,135.25 649.80,141.30 649.92,134.18 650.04,141.30 650.16,134.96 650.28,141.30 650.40,129.81 650.52,141.30 650.64,135.14 650.76,141.30 650.88,134.53 651.00,141.30 651.12,132.07 651.24,141.30 651.35,134.59 651.47,141.30 651.59,131.27 651.71,141.30 651.83,133.99 651.95,141.30 652.07,133.23 652.19,141.30 652.31,134.64 652.43,141.30 652.55,135.13 652.67,141.30 652.78,134.64 652.90,141.30 653.02,134.62 653.14,141.30 653.26,134.40 653.38,141.30 653.50,133.88 653.62,141.30 653.74,135.23 653.86,141.30 653.98,133.99 654.10,141.30 654.22,135.23 654.33,141.30 654.45,134.59 654.57,141.30 654.69,133.31 654.81,141.30 654.93,133.74 655.05,141.30 655.17,134.90 655.29,141.30 655.41,134.21 655.53,141.30 655.65,133.72 655.76,141.30 655.88,133.92 656.00,141.30 656.12,134.52 656.24,141.30 656.36,134.89 656.48,141.30 656.60,134.23 656.72,141.30 656.84,134.75 656.96,141.30 657.08,134.13 657.20,141.30 657.31,134.48 657.43,141.30 657.55,134.19 657.67,141.30 657.79,134.79 657.91,141.30 658.03,134.81 658.15,141.30 658.27,134.71 658.39,141.30 658.51,134.81 658.63,141.30 658.74,134.03 658.86,141.30 658.98,134.33 659.10,141.30 659.22,134.92 659.34,141.30 659.46,134.99 659.58,141.30 659.70,135.23 659.82,141.30 659.94,134.03 660.06,141.30 660.18,134.08 660.29,141.30 660.41,130.04 660.53,141.30 660.65,132.62 660.77,141.30 660.89,134.14 661.01,141.30 661.13,133.55 661.25,141.30 661.37,134.52 661.49,141.30 661.61,131.99 661.72,141.30 661.84,133.82 661.96,141.30 662.08,133.82 662.20,141.30 662.32,133.47 662.44,141.30 662.56,135.29 662.68,141.30 662.80,133.85 662.92,141.30 663.04,134.16 663.16,141.30 663.27,134.56 663.39,141.30 663.51,133.72 663.63,141.30 663.75,134.63 663.87,141.30 663.99,134.09 664.11,141.30 664.23,134.06 664.35,141.30 664.47,134.96 664.59,141.30 664.70,134.47 664.82,141.30 664.94,133.14 665.06,141.30 665.18,134.40 665.30,141.30 665.42,135.16 665.54,141.30 665.66,134.71 665.78,141.30 665.90,134.78 666.02,141.30 666.14,133.06 666.25,141.30 666.37,135.12 666.49,141.30 666.61,135.04 666.73,141.30 666.85,133.81 666.97,141.30 667.09,133.52 667.21,141.30 667.33,134.16 667.45,141.30 667.57,134.33 667.68,141.30 667.80,135.25 667.92,141.30 668.04,133.86 668.16,141.30 668.28,135.05 668.40,141.30" fill="none" stroke="#000" stroke-width="0.42" stroke-linejoin="miter"/>
<rect x="549.20" y="135.20" width="54.20" height="6.2" fill="#000"/>
<rect x="614.90" y="135.20" width="53.50" height="6.2" fill="#000"/>
<rect x="602.0" y="128.22" width="1" height="13.38" fill="#000" opacity="0.69"/>
<rect x="601.0" y="127.80" width="1" height="13.80" fill="#000" opacity="0.76"/>
<rect x="600.0" y="126.34" width="1" height="15.26" fill="#000" opacity="0.76"/>
<rect x="599.0" y="128.82" width="1" height="12.78" fill="#000" opacity="0.76"/>
<rect x="598.0" y="128.33" width="1" height="13.27" fill="#000" opacity="0.96"/>
<rect x="597.0" y="130.47" width="1" height="11.13" fill="#000" opacity="0.97"/>
<rect x="596.0" y="131.62" width="1" height="9.98" fill="#000" opacity="0.99"/>
<rect x="595.0" y="131.27" width="1" height="10.33" fill="#000" opacity="0.87"/>
<rect x="594.0" y="132.11" width="1" height="9.49" fill="#000" opacity="0.71"/>
<rect x="593.0" y="133.02" width="1" height="8.58" fill="#000" opacity="0.95"/>
<rect x="592.0" y="132.85" width="1" height="8.75" fill="#000" opacity="0.88"/>
<rect x="591.0" y="132.96" width="1" height="8.64" fill="#000" opacity="0.81"/>
<rect x="590.0" y="133.60" width="1" height="8.00" fill="#000" opacity="0.67"/>
<rect x="589.0" y="133.62" width="1" height="7.98" fill="#000" opacity="0.87"/>
<rect x="588.0" y="133.57" width="1" height="8.03" fill="#000" opacity="0.60"/>
<rect x="615.0" y="124.17" width="1" height="17.43" fill="#000" opacity="0.77"/>
<rect x="616.0" y="129.55" width="1" height="12.05" fill="#000" opacity="0.70"/>
<rect x="617.0" y="129.46" width="1" height="12.14" fill="#000" opacity="0.93"/>
<rect x="618.0" y="128.54" width="1" height="13.06" fill="#000" opacity="0.73"/>
<rect x="619.0" y="130.63" width="1" height="10.97" fill="#000" opacity="0.72"/>
<rect x="620.0" y="131.07" width="1" height="10.53" fill="#000" opacity="0.74"/>
<rect x="621.0" y="129.93" width="1" height="11.67" fill="#000" opacity="0.92"/>
<rect x="622.0" y="130.84" width="1" height="10.76" fill="#000" opacity="0.95"/>
<rect x="623.0" y="131.48" width="1" height="10.12" fill="#000" opacity="0.65"/>
<rect x="624.0" y="133.24" width="1" height="8.36" fill="#000" opacity="0.67"/>
<rect x="625.0" y="133.07" width="1" height="8.53" fill="#000" opacity="0.81"/>
<rect x="626.0" y="132.39" width="1" height="9.21" fill="#000" opacity="0.83"/>
<rect x="627.0" y="133.30" width="1" height="8.30" fill="#000" opacity="0.70"/>
<rect x="628.0" y="132.83" width="1" height="8.77" fill="#000" opacity="0.90"/>
<rect x="629.0" y="133.82" width="1" height="7.78" fill="#000" opacity="0.62"/>
<polygon points="604.92,57.10 604.65,67.80 604.05,80.40 603.35,93.00 602.35,105.70 600.60,118.30 598.35,130.90 597.15,136.00 597.15,141.60 609.85,141.60 609.75,136.00 609.55,130.90 608.30,118.30 607.35,105.70 607.15,93.00 606.65,80.40 605.95,67.80 605.67,57.10" fill="#000" opacity="0.28"/>
<polygon points="605.17,57.10 604.90,67.80 604.30,80.40 603.60,93.00 602.60,105.70 600.85,118.30 598.60,130.90 597.40,136.00 597.40,141.60 609.60,141.60 609.50,136.00 609.30,130.90 608.05,118.30 607.10,105.70 606.90,93.00 606.40,80.40 605.70,67.80 605.42,57.10" fill="url(#gpk)"/>
<polygon points="606.20,116.00 605.90,118.30 604.00,130.90 602.40,139.70 602.20,142.10 607.50,142.10 607.40,139.70 607.20,130.90 606.90,118.30 606.40,116.00" fill="#fff"/>
<polygon points="612.23,35.00 612.17,48.90 611.45,67.80 610.95,80.40 610.55,93.00 610.20,105.70 609.50,118.30 608.85,130.90 608.65,136.00 608.55,141.60 620.85,141.60 620.85,136.00 619.85,130.90 617.00,118.30 615.15,105.70 614.25,93.00 613.65,80.40 613.25,67.80 612.92,48.90 612.98,35.00" fill="#000" opacity="0.28"/>
<polygon points="612.48,35.00 612.42,48.90 611.70,67.80 611.20,80.40 610.80,93.00 610.45,105.70 609.75,118.30 609.10,130.90 608.90,136.00 608.80,141.60 620.60,141.60 620.60,136.00 619.60,130.90 616.75,118.30 614.90,105.70 614.00,93.00 613.40,80.40 613.00,67.80 612.67,48.90 612.73,35.00" fill="url(#gpk)"/>
<polygon points="612.80,100.00 612.00,118.30 611.20,130.90 610.70,139.70 610.60,142.10 616.40,142.10 616.30,139.70 615.40,130.90 613.50,118.30 613.00,100.00" fill="#fff"/>
<line x1="608.6" y1="29.8" x2="608.6" y2="146.6" stroke="#333" stroke-width="0.5" stroke-dasharray="1.1 1.0"/>
<text x="609.80" y="24.80" font-size="8.95" text-anchor="middle" fill="#000" stroke="#000" stroke-width="0.12">Det: shSAT1#1</text>
<text x="504.60" y="98.75" font-size="7.68" text-anchor="middle" fill="#000" stroke="#000" stroke-width="0.12" transform="rotate(-90 504.60 96.00)">Read Count of Frequency</text>
<text x="543.40" y="157.33" font-size="7.9" textLength="15.50" lengthAdjust="spacingAndGlyphs" fill="#000" stroke="#000" stroke-width="0.12">-5kb</text>
<text x="573.50" y="157.33" font-size="7.9" textLength="21.90" lengthAdjust="spacingAndGlyphs" fill="#000" stroke="#000" stroke-width="0.12">-2.5kb</text>
<text x="603.20" y="157.33" font-size="7.9" textLength="15.20" lengthAdjust="spacingAndGlyphs" fill="#000" stroke="#000" stroke-width="0.12">TSS</text>
<text x="630.10" y="157.33" font-size="7.9" textLength="19.90" lengthAdjust="spacingAndGlyphs" fill="#000" stroke="#000" stroke-width="0.12">2.5kb</text>
<text x="664.00" y="157.33" font-size="7.9" textLength="12.20" lengthAdjust="spacingAndGlyphs" fill="#000" stroke="#000" stroke-width="0.12">5kp</text>
<text x="564.40" y="170.93" font-size="9.3" textLength="82.60" lengthAdjust="spacingAndGlyphs" fill="#000" stroke="#000" stroke-width="0.12">Genomic Region (5’</text>
<path d="M648.20 167.9H657.00M654.60 165.9L657.30 167.9L654.60 169.9" stroke="#151515" stroke-width="0.75" fill="none"/>
<text x="658.70" y="170.93" font-size="9.3" textLength="9.30" lengthAdjust="spacingAndGlyphs" fill="#000" stroke="#000" stroke-width="0.12">3’)</text>
<rect x="36" y="192.60" width="6.7" height="7.05" fill="#8fc3dd"/>
<text x="43.80" y="199.16" font-size="8.0" text-anchor="start" fill="#000" stroke="#000" stroke-width="0.12">Promoter(&lt;= 1kb)</text>
<rect x="36" y="199.65" width="6.7" height="7.05" fill="#1473b8"/>
<text x="43.80" y="206.21" font-size="8.0" text-anchor="start" fill="#000" stroke="#000" stroke-width="0.12">Promoter(1-2 kb)</text>
<rect x="36" y="206.70" width="6.7" height="7.05" fill="#a8d08d"/>
<text x="43.80" y="213.26" font-size="8.0" text-anchor="start" fill="#000" stroke="#000" stroke-width="0.12">Promoter(2-3 kb)</text>
<rect x="36" y="213.75" width="6.7" height="7.05" fill="#2e9a48"/>
<text x="43.80" y="220.31" font-size="8.0" text-anchor="start" fill="#000" stroke="#000" stroke-width="0.12">5' UTR</text>
<rect x="36" y="220.80" width="6.7" height="7.05" fill="#f29a97"/>
<text x="43.80" y="227.36" font-size="8.0" text-anchor="start" fill="#000" stroke="#000" stroke-width="0.12">3' UTR</text>
<rect x="36" y="227.85" width="6.7" height="7.05" fill="#e02a2f"/>
<text x="43.80" y="234.41" font-size="8.0" text-anchor="start" fill="#000" stroke="#000" stroke-width="0.12">1st Exon</text>
<rect x="113.9" y="199.65" width="6.7" height="7.05" fill="#f5b26b"/>
<text x="123.20" y="206.21" font-size="8.0" text-anchor="start" fill="#000" stroke="#000" stroke-width="0.12">Other Exon</text>
<rect x="113.9" y="206.70" width="6.7" height="7.05" fill="#f07f2e"/>
<text x="123.20" y="213.26" font-size="8.0" text-anchor="start" fill="#000" stroke="#000" stroke-width="0.12">1st Intron</text>
<rect x="113.9" y="213.75" width="6.7" height="7.05" fill="#b8a2c9"/>
<text x="123.20" y="220.31" font-size="8.0" text-anchor="start" fill="#000" stroke="#000" stroke-width="0.12">Other Intron</text>
<rect x="113.9" y="220.80" width="6.7" height="7.05" fill="#5e3c99"/>
<text x="123.20" y="227.36" font-size="8.0" text-anchor="start" fill="#000" stroke="#000" stroke-width="0.12">Downstream(&lt;=300)</text>
<rect x="113.9" y="227.85" width="6.7" height="7.05" fill="#ecea95"/>
<text x="123.20" y="234.41" font-size="8.0" text-anchor="start" fill="#000" stroke="#000" stroke-width="0.12">Distal Intergenic</text>
<rect x="36.5" y="239.3" width="132.3" height="51.00" fill="#fff" stroke="#d6d6d6" stroke-width="0.6"/>
<line x1="42.3" y1="239.3" x2="42.3" y2="290.3" stroke="#ececec" stroke-width="0.5"/>
<line x1="72.2" y1="239.3" x2="72.2" y2="290.3" stroke="#ececec" stroke-width="0.5"/>
<line x1="102.15" y1="239.3" x2="102.15" y2="290.3" stroke="#ececec" stroke-width="0.5"/>
<line x1="132.1" y1="239.3" x2="132.1" y2="290.3" stroke="#ececec" stroke-width="0.5"/>
<line x1="162.0" y1="239.3" x2="162.0" y2="290.3" stroke="#ececec" stroke-width="0.5"/>
<rect x="42.34" y="241.4" width="55.62" height="46.80" fill="#8fc3dd"/>
<rect x="97.81" y="241.4" width="4.24" height="46.80" fill="#1473b8"/>
<rect x="101.90" y="241.4" width="2.78" height="46.80" fill="#a8d08d"/>
<rect x="104.53" y="241.4" width="1.32" height="46.80" fill="#f29a97"/>
<rect x="105.69" y="241.4" width="1.32" height="46.80" fill="#f5b26b"/>
<rect x="106.86" y="241.4" width="13.00" height="46.80" fill="#f07f2e"/>
<rect x="119.71" y="241.4" width="17.67" height="46.80" fill="#b8a2c9"/>
<rect x="137.23" y="241.4" width="24.97" height="46.80" fill="#ecea95"/>
<rect x="36.5" y="293.6" width="132.3" height="51.70" fill="#fff" stroke="#d6d6d6" stroke-width="0.6"/>
<line x1="42.3" y1="293.6" x2="42.3" y2="345.3" stroke="#ececec" stroke-width="0.5"/>
<line x1="72.2" y1="293.6" x2="72.2" y2="345.3" stroke="#ececec" stroke-width="0.5"/>
<line x1="102.15" y1="293.6" x2="102.15" y2="345.3" stroke="#ececec" stroke-width="0.5"/>
<line x1="132.1" y1="293.6" x2="132.1" y2="345.3" stroke="#ececec" stroke-width="0.5"/>
<line x1="162.0" y1="293.6" x2="162.0" y2="345.3" stroke="#ececec" stroke-width="0.5"/>
<rect x="42.34" y="295.6" width="52.70" height="47.00" fill="#8fc3dd"/>
<rect x="94.89" y="295.6" width="4.24" height="47.00" fill="#1473b8"/>
<rect x="98.98" y="295.6" width="2.78" height="47.00" fill="#a8d08d"/>
<rect x="101.61" y="295.6" width="1.32" height="47.00" fill="#f29a97"/>
<rect x="102.77" y="295.6" width="1.61" height="47.00" fill="#f5b26b"/>
<rect x="104.23" y="295.6" width="13.87" height="47.00" fill="#f07f2e"/>
<rect x="117.96" y="295.6" width="18.25" height="47.00" fill="#b8a2c9"/>
<rect x="136.06" y="295.6" width="26.14" height="47.00" fill="#ecea95"/>
<text x="28.10" y="267.00" font-size="7.55" text-anchor="middle" fill="#000" stroke="#000" stroke-width="0.12" transform="rotate(-90 28.10 264.30)">Det: pLKO.1</text>
<text x="28.10" y="322.33" font-size="7.62" text-anchor="middle" fill="#000" stroke="#000" stroke-width="0.12" transform="rotate(-90 28.10 319.60)">Det: shSAT1</text>
<line x1="42.3" y1="345.3" x2="42.3" y2="346.9" stroke="#555" stroke-width="0.5"/>
<text x="42.30" y="353.19" font-size="7.8" text-anchor="middle" fill="#000" stroke="#000" stroke-width="0.12">0</text>
<line x1="72.4" y1="345.3" x2="72.4" y2="346.9" stroke="#555" stroke-width="0.5"/>
<text x="72.40" y="353.19" font-size="7.8" text-anchor="middle" fill="#000" stroke="#000" stroke-width="0.12">25</text>
<line x1="102.2" y1="345.3" x2="102.2" y2="346.9" stroke="#555" stroke-width="0.5"/>
<text x="102.20" y="353.19" font-size="7.8" text-anchor="middle" fill="#000" stroke="#000" stroke-width="0.12">50</text>
<line x1="132.3" y1="345.3" x2="132.3" y2="346.9" stroke="#555" stroke-width="0.5"/>
<text x="132.30" y="353.19" font-size="7.8" text-anchor="middle" fill="#000" stroke="#000" stroke-width="0.12">75</text>
<line x1="162.0" y1="345.3" x2="162.0" y2="346.9" stroke="#555" stroke-width="0.5"/>
<text x="162.00" y="353.19" font-size="7.8" text-anchor="middle" fill="#000" stroke="#000" stroke-width="0.12">100</text>
<text x="104.70" y="363.77" font-size="9.4" text-anchor="middle" fill="#000" stroke="#000" stroke-width="0.12">Percentage (%)</text>
<clipPath id="cpv"><circle cx="272" cy="277.9" r="41"/></clipPath>
<circle cx="272" cy="277.9" r="41" fill="#6b76b2"/>
<circle cx="331.9" cy="277.6" r="29.9" fill="#e8777a"/>
<circle cx="331.9" cy="277.6" r="29.9" fill="#c0347e" clip-path="url(#cpv)"/>
<circle cx="272" cy="277.9" r="41" fill="none" stroke="#1d1d1d" stroke-width="0.75"/>
<circle cx="331.9" cy="277.6" r="29.9" fill="none" stroke="#1d1d1d" stroke-width="0.75"/>
<text x="271.00" y="280.22" font-size="9.0" text-anchor="middle" font-weight="bold" fill="#000" stroke="#000" stroke-width="0.12">1463</text>
<text x="333.50" y="279.12" font-size="9.0" text-anchor="middle" font-weight="bold" fill="#000" stroke="#000" stroke-width="0.12">748</text>
<text x="300.50" y="237.76" font-size="9.1" textLength="48.80" lengthAdjust="spacingAndGlyphs" font-weight="bold" fill="#000" stroke="#000" stroke-width="0.12">93 (11.05%)</text>
<line x1="307.2" y1="275.5" x2="309.0" y2="248" stroke="#111" stroke-width="1.0"/>
<polygon points="309.35,243.5 306.5,250.4 309.0,249.4 311.7,250.7" fill="#111"/>
<text x="231.90" y="328.23" font-size="7.9" textLength="132.80" lengthAdjust="spacingAndGlyphs" fill="#000" stroke="#000" stroke-width="0.12">Downregulated RNA-seq vs ChIP-seq</text>
<text x="464.60" y="218.49" font-size="9.2" text-anchor="middle" fill="#000" stroke="#000" stroke-width="0.12">Biological Process</text>
<rect x="508.4" y="221.3" width="131.3" height="115.9" fill="#fff"/>
<line x1="514.20" y1="221.3" x2="514.20" y2="337.2" stroke="#e6e6e6" stroke-width="0.55"/>
<line x1="529.88" y1="221.3" x2="529.88" y2="337.2" stroke="#e6e6e6" stroke-width="0.3"/>
<line x1="545.55" y1="221.3" x2="545.55" y2="337.2" stroke="#e6e6e6" stroke-width="0.55"/>
<line x1="561.23" y1="221.3" x2="561.23" y2="337.2" stroke="#e6e6e6" stroke-width="0.3"/>
<line x1="576.90" y1="221.3" x2="576.90" y2="337.2" stroke="#e6e6e6" stroke-width="0.55"/>
<line x1="592.58" y1="221.3" x2="592.58" y2="337.2" stroke="#e6e6e6" stroke-width="0.3"/>
<line x1="608.25" y1="221.3" x2="608.25" y2="337.2" stroke="#e6e6e6" stroke-width="0.55"/>
<line x1="623.93" y1="221.3" x2="623.93" y2="337.2" stroke="#e6e6e6" stroke-width="0.3"/>
<line x1="508.4" y1="228.10" x2="639.7" y2="228.10" stroke="#e6e6e6" stroke-width="0.55"/>
<line x1="508.4" y1="239.49" x2="639.7" y2="239.49" stroke="#e6e6e6" stroke-width="0.55"/>
<line x1="508.4" y1="250.88" x2="639.7" y2="250.88" stroke="#e6e6e6" stroke-width="0.55"/>
<line x1="508.4" y1="262.27" x2="639.7" y2="262.27" stroke="#e6e6e6" stroke-width="0.55"/>
<line x1="508.4" y1="273.66" x2="639.7" y2="273.66" stroke="#e6e6e6" stroke-width="0.55"/>
<line x1="508.4" y1="285.05" x2="639.7" y2="285.05" stroke="#e6e6e6" stroke-width="0.55"/>
<line x1="508.4" y1="296.44" x2="639.7" y2="296.44" stroke="#e6e6e6" stroke-width="0.55"/>
<line x1="508.4" y1="307.83" x2="639.7" y2="307.83" stroke="#e6e6e6" stroke-width="0.55"/>
<line x1="508.4" y1="319.22" x2="639.7" y2="319.22" stroke="#e6e6e6" stroke-width="0.55"/>
<line x1="508.4" y1="330.61" x2="639.7" y2="330.61" stroke="#e6e6e6" stroke-width="0.55"/>
<rect x="514.2" y="223.00" width="112.86" height="10.1" fill="#db5d5f"/>
<line x1="506.6" y1="228.10" x2="508.4" y2="228.10" stroke="#444" stroke-width="0.5"/>
<text x="505.80" y="231.45" font-size="7.95" text-anchor="end" fill="#000" stroke="#000" stroke-width="0.12">mitotic cell cycle process</text>
<rect x="514.2" y="234.39" width="119.13" height="10.1" fill="#db5d5f"/>
<line x1="506.6" y1="239.49" x2="508.4" y2="239.49" stroke="#444" stroke-width="0.5"/>
<text x="505.80" y="242.84" font-size="7.95" text-anchor="end" fill="#000" stroke="#000" stroke-width="0.12">mitotic cell cycle</text>
<rect x="514.2" y="245.78" width="81.51" height="10.1" fill="#c6626f"/>
<line x1="506.6" y1="250.88" x2="508.4" y2="250.88" stroke="#444" stroke-width="0.5"/>
<text x="505.80" y="254.23" font-size="7.95" text-anchor="end" fill="#000" stroke="#000" stroke-width="0.12">organelle fission</text>
<rect x="514.2" y="257.17" width="75.24" height="10.1" fill="#c6626f"/>
<line x1="506.6" y1="262.27" x2="508.4" y2="262.27" stroke="#444" stroke-width="0.5"/>
<text x="505.80" y="265.62" font-size="7.95" text-anchor="end" fill="#000" stroke="#000" stroke-width="0.12">chromosome segregation</text>
<rect x="514.2" y="268.56" width="87.78" height="10.1" fill="#c4636f"/>
<line x1="506.6" y1="273.66" x2="508.4" y2="273.66" stroke="#444" stroke-width="0.5"/>
<text x="505.80" y="277.01" font-size="7.95" text-anchor="end" fill="#000" stroke="#000" stroke-width="0.12">chromosome organization</text>
<rect x="514.2" y="279.95" width="62.70" height="10.1" fill="#aa6c84"/>
<line x1="506.6" y1="285.05" x2="508.4" y2="285.05" stroke="#444" stroke-width="0.5"/>
<text x="505.80" y="288.40" font-size="7.95" text-anchor="end" fill="#000" stroke="#000" stroke-width="0.12">nuclear chromosome segregation</text>
<rect x="514.2" y="291.34" width="81.51" height="10.1" fill="#ad6b82"/>
<line x1="506.6" y1="296.44" x2="508.4" y2="296.44" stroke="#444" stroke-width="0.5"/>
<text x="505.80" y="299.79" font-size="7.95" text-anchor="end" fill="#000" stroke="#000" stroke-width="0.12">cell cycle phase transition</text>
<rect x="514.2" y="302.73" width="75.24" height="10.1" fill="#5c79b0"/>
<line x1="506.6" y1="307.83" x2="508.4" y2="307.83" stroke="#444" stroke-width="0.5"/>
<text x="505.80" y="311.18" font-size="7.95" text-anchor="end" fill="#000" stroke="#000" stroke-width="0.12">regulation of mitotic cell cycle</text>
<rect x="514.2" y="314.12" width="81.51" height="10.1" fill="#1f7bbf"/>
<line x1="506.6" y1="319.22" x2="508.4" y2="319.22" stroke="#444" stroke-width="0.5"/>
<text x="505.80" y="322.57" font-size="7.95" text-anchor="end" fill="#000" stroke="#000" stroke-width="0.12">cell division</text>
<rect x="514.2" y="325.51" width="87.78" height="10.1" fill="#1f7bbf"/>
<line x1="506.6" y1="330.61" x2="508.4" y2="330.61" stroke="#444" stroke-width="0.5"/>
<text x="505.80" y="333.96" font-size="7.95" text-anchor="end" fill="#000" stroke="#000" stroke-width="0.12">regulation of cell cycle process</text>
<path d="M639.8 221.3V336.3H508.4" fill="none" stroke="#c6c6c6" stroke-width="0.7"/>
<path d="M508.4 336.6V221.3H640.1" fill="none" stroke="#555" stroke-width="0.7"/>
<line x1="514.20" y1="337.2" x2="514.20" y2="339" stroke="#444" stroke-width="0.5"/>
<text x="515.40" y="348.62" font-size="9.0" text-anchor="middle" fill="#000" stroke="#000" stroke-width="0.12">0</text>
<line x1="545.55" y1="337.2" x2="545.55" y2="339" stroke="#444" stroke-width="0.5"/>
<text x="546.75" y="348.62" font-size="9.0" text-anchor="middle" fill="#000" stroke="#000" stroke-width="0.12">5</text>
<line x1="576.90" y1="337.2" x2="576.90" y2="339" stroke="#444" stroke-width="0.5"/>
<text x="578.10" y="348.62" font-size="9.0" text-anchor="middle" fill="#000" stroke="#000" stroke-width="0.12">10</text>
<line x1="608.25" y1="337.2" x2="608.25" y2="339" stroke="#444" stroke-width="0.5"/>
<text x="609.45" y="348.62" font-size="9.0" text-anchor="middle" fill="#000" stroke="#000" stroke-width="0.12">15</text>
<text x="572.70" y="360.42" font-size="9.0" text-anchor="middle" fill="#000" stroke="#000" stroke-width="0.12">Count</text>
<text x="644.10" y="239.62" font-size="9.0" text-anchor="start" fill="#000" stroke="#000" stroke-width="0.12">p.adjust</text>
<rect x="643.2" y="244" width="7.6" height="79.4" fill="url(#gpadj)"/>
<line x1="643.2" y1="257.80" x2="644.7" y2="257.80" stroke="#fff" stroke-width="0.5"/>
<line x1="649.3" y1="257.80" x2="650.8" y2="257.80" stroke="#fff" stroke-width="0.5"/>
<text x="653.20" y="261.13" font-size="9.3" textLength="25.60" lengthAdjust="spacingAndGlyphs" fill="#000" stroke="#000" stroke-width="0.12">1e−04</text>
<line x1="643.2" y1="271.55" x2="644.7" y2="271.55" stroke="#fff" stroke-width="0.5"/>
<line x1="649.3" y1="271.55" x2="650.8" y2="271.55" stroke="#fff" stroke-width="0.5"/>
<text x="653.20" y="274.88" font-size="9.3" textLength="25.60" lengthAdjust="spacingAndGlyphs" fill="#000" stroke="#000" stroke-width="0.12">2e−04</text>
<line x1="643.2" y1="285.30" x2="644.7" y2="285.30" stroke="#fff" stroke-width="0.5"/>
<line x1="649.3" y1="285.30" x2="650.8" y2="285.30" stroke="#fff" stroke-width="0.5"/>
<text x="653.20" y="288.63" font-size="9.3" textLength="25.60" lengthAdjust="spacingAndGlyphs" fill="#000" stroke="#000" stroke-width="0.12">3e−04</text>
<line x1="643.2" y1="299.05" x2="644.7" y2="299.05" stroke="#fff" stroke-width="0.5"/>
<line x1="649.3" y1="299.05" x2="650.8" y2="299.05" stroke="#fff" stroke-width="0.5"/>
<text x="653.20" y="302.38" font-size="9.3" textLength="25.60" lengthAdjust="spacingAndGlyphs" fill="#000" stroke="#000" stroke-width="0.12">4e−04</text>
<line x1="643.2" y1="312.80" x2="644.7" y2="312.80" stroke="#fff" stroke-width="0.5"/>
<line x1="649.3" y1="312.80" x2="650.8" y2="312.80" stroke="#fff" stroke-width="0.5"/>
<text x="653.20" y="316.13" font-size="9.3" textLength="25.60" lengthAdjust="spacingAndGlyphs" fill="#000" stroke="#000" stroke-width="0.12">5e−04</text>
<rect x="15.3" y="378" width="669.7" height="389.5" fill="#efefef"/>
<g stroke="#a9abab" stroke-width="1.8" stroke-linecap="round">
<line x1="187.1" y1="395.6" x2="204.4" y2="496.6"/>
<line x1="187.1" y1="395.6" x2="188.5" y2="509.3"/>
<line x1="138.8" y1="407.0" x2="204.4" y2="496.6"/>
<line x1="138.8" y1="407.0" x2="188.5" y2="509.3"/>
<line x1="235.6" y1="393.3" x2="204.4" y2="496.6"/>
<line x1="235.6" y1="393.3" x2="188.5" y2="509.3"/>
<line x1="96.9" y1="427.3" x2="204.4" y2="496.6"/>
<line x1="96.9" y1="427.3" x2="188.5" y2="509.3"/>
<line x1="65.2" y1="456.6" x2="204.4" y2="496.6"/>
<line x1="65.2" y1="456.6" x2="188.5" y2="509.3"/>
<line x1="47.6" y1="489.1" x2="204.4" y2="496.6"/>
<line x1="47.6" y1="489.1" x2="188.5" y2="509.3"/>
<line x1="43.0" y1="524.0" x2="204.4" y2="496.6"/>
<line x1="43.0" y1="524.0" x2="188.5" y2="509.3"/>
<line x1="65.3" y1="556.6" x2="204.4" y2="496.6"/>
<line x1="65.3" y1="556.6" x2="188.5" y2="509.3"/>
<line x1="326.2" y1="429.3" x2="204.4" y2="496.6"/>
<line x1="326.2" y1="429.3" x2="188.5" y2="509.3"/>
<line x1="191.7" y1="621.0" x2="204.4" y2="496.6"/>
<line x1="191.7" y1="621.0" x2="188.5" y2="509.3"/>
<line x1="343.5" y1="506.3" x2="204.4" y2="496.6"/>
<line x1="343.5" y1="506.3" x2="188.5" y2="509.3"/>
<line x1="315.5" y1="521.6" x2="204.4" y2="496.6"/>
<line x1="315.5" y1="521.6" x2="188.5" y2="509.3"/>
<line x1="353.8" y1="535.2" x2="204.4" y2="496.6"/>
<line x1="353.8" y1="535.2" x2="188.5" y2="509.3"/>
<line x1="295.5" y1="550.6" x2="204.4" y2="496.6"/>
<line x1="295.5" y1="550.6" x2="188.5" y2="509.3"/>
<line x1="340.8" y1="562.2" x2="204.4" y2="496.6"/>
<line x1="340.8" y1="562.2" x2="188.5" y2="509.3"/>
<line x1="261.9" y1="574.9" x2="204.4" y2="496.6"/>
<line x1="261.9" y1="574.9" x2="188.5" y2="509.3"/>
<line x1="303.9" y1="583.9" x2="204.4" y2="496.6"/>
<line x1="303.9" y1="583.9" x2="188.5" y2="509.3"/>
<line x1="262.0" y1="597.6" x2="204.4" y2="496.6"/>
<line x1="262.0" y1="597.6" x2="188.5" y2="509.3"/>
<line x1="49.3" y1="596.6" x2="188.5" y2="509.3"/>
<line x1="510.5" y1="415.3" x2="442.6" y2="522.3"/>
<line x1="563.4" y1="456.6" x2="442.6" y2="522.3"/>
<line x1="594.4" y1="511.3" x2="442.6" y2="522.3"/>
<line x1="556.1" y1="580.3" x2="442.6" y2="522.3"/>
<line x1="498.5" y1="632.9" x2="442.6" y2="522.3"/>
<line x1="326.2" y1="429.3" x2="442.6" y2="522.3"/>
<line x1="343.5" y1="506.3" x2="442.6" y2="522.3"/>
<line x1="315.5" y1="521.6" x2="442.6" y2="522.3"/>
<line x1="353.8" y1="535.2" x2="442.6" y2="522.3"/>
<line x1="295.5" y1="550.6" x2="442.6" y2="522.3"/>
<line x1="340.8" y1="562.2" x2="442.6" y2="522.3"/>
<line x1="261.9" y1="574.9" x2="442.6" y2="522.3"/>
<line x1="303.9" y1="583.9" x2="442.6" y2="522.3"/>
<line x1="262.0" y1="597.6" x2="442.6" y2="522.3"/>
<line x1="483.9" y1="709.6" x2="395.4" y2="613.6"/>
<line x1="498.5" y1="632.9" x2="395.4" y2="613.6"/>
<line x1="556.1" y1="580.3" x2="395.4" y2="613.6"/>
<line x1="191.7" y1="621.0" x2="395.4" y2="613.6"/>
<line x1="343.5" y1="506.3" x2="395.4" y2="613.6"/>
<line x1="315.5" y1="521.6" x2="395.4" y2="613.6"/>
<line x1="353.8" y1="535.2" x2="395.4" y2="613.6"/>
<line x1="295.5" y1="550.6" x2="395.4" y2="613.6"/>
<line x1="340.8" y1="562.2" x2="395.4" y2="613.6"/>
<line x1="261.9" y1="574.9" x2="395.4" y2="613.6"/>
<line x1="303.9" y1="583.9" x2="395.4" y2="613.6"/>
<line x1="262.0" y1="597.6" x2="395.4" y2="613.6"/>
<line x1="215.2" y1="742.0" x2="325.5" y2="650.9"/>
<line x1="302.9" y1="762.9" x2="325.5" y2="650.9"/>
<line x1="394.8" y1="745.2" x2="325.5" y2="650.9"/>
<line x1="498.5" y1="632.9" x2="325.5" y2="650.9"/>
<line x1="191.7" y1="621.0" x2="325.5" y2="650.9"/>
<line x1="343.5" y1="506.3" x2="325.5" y2="650.9"/>
<line x1="315.5" y1="521.6" x2="325.5" y2="650.9"/>
<line x1="353.8" y1="535.2" x2="325.5" y2="650.9"/>
<line x1="295.5" y1="550.6" x2="325.5" y2="650.9"/>
<line x1="340.8" y1="562.2" x2="325.5" y2="650.9"/>
<line x1="261.9" y1="574.9" x2="325.5" y2="650.9"/>
<line x1="303.9" y1="583.9" x2="325.5" y2="650.9"/>
<line x1="262.0" y1="597.6" x2="325.5" y2="650.9"/>
</g>
<circle cx="187.1" cy="395.6" r="3.4" fill="#f7cfcc"/>
<circle cx="138.8" cy="407.0" r="3.4" fill="#fae0dc"/>
<circle cx="235.6" cy="393.3" r="3.4" fill="#f9d9d5"/>
<circle cx="96.9" cy="427.3" r="3.4" fill="#f8d3cf"/>
<circle cx="65.2" cy="456.6" r="3.4" fill="#f9d6d2"/>
<circle cx="47.6" cy="489.1" r="3.4" fill="#f8d3cf"/>
<circle cx="43.0" cy="524.0" r="3.4" fill="#e2696b"/>
<circle cx="65.3" cy="556.6" r="3.4" fill="#f5c6c3"/>
<circle cx="49.3" cy="596.6" r="3.4" fill="#fae0dc"/>
<circle cx="326.2" cy="429.3" r="3.4" fill="#f9dad6"/>
<circle cx="191.7" cy="621.0" r="3.4" fill="#f9d8d4"/>
<circle cx="215.2" cy="742.0" r="3.4" fill="#f5c4c1"/>
<circle cx="302.9" cy="762.9" r="3.4" fill="#f7cecb"/>
<circle cx="394.8" cy="745.2" r="3.4" fill="#f9d9d5"/>
<circle cx="483.9" cy="709.6" r="3.4" fill="#f8d3cf"/>
<circle cx="498.5" cy="632.9" r="3.4" fill="#f8d2ce"/>
<circle cx="556.1" cy="580.3" r="3.4" fill="#f9d8d4"/>
<circle cx="594.4" cy="511.3" r="3.4" fill="#f6cac7"/>
<circle cx="563.4" cy="456.6" r="3.4" fill="#f8d3cf"/>
<circle cx="510.5" cy="415.3" r="3.4" fill="#d9535a"/>
<circle cx="343.5" cy="506.3" r="3.4" fill="#fadcd8"/>
<circle cx="315.5" cy="521.6" r="3.4" fill="#fbe2de"/>
<circle cx="353.8" cy="535.2" r="3.4" fill="#f9dad6"/>
<circle cx="295.5" cy="550.6" r="3.4" fill="#f9d8d4"/>
<circle cx="340.8" cy="562.2" r="3.4" fill="#f0aeac"/>
<circle cx="261.9" cy="574.9" r="3.4" fill="#f5c4c1"/>
<circle cx="303.9" cy="583.9" r="3.4" fill="#f3bab8"/>
<circle cx="262.0" cy="597.6" r="3.4" fill="#f2b4b2"/>
<circle cx="204.4" cy="496.6" r="8.2" fill="#dcb67f"/>
<circle cx="188.5" cy="509.3" r="8.7" fill="#dcb67f"/>
<circle cx="442.6" cy="522.3" r="7.6" fill="#dcb67f"/>
<circle cx="395.4" cy="613.6" r="7.5" fill="#dcb67f"/>
<circle cx="325.5" cy="650.9" r="7.5" fill="#dcb67f"/>
<text x="188.7" y="391.01" font-size="9.25" textLength="16.00" lengthAdjust="spacingAndGlyphs" fill="none" stroke="#efefef" stroke-width="1.4" stroke-linejoin="round">TK1</text>
<text x="188.7" y="391.01" font-size="9.25" textLength="16.00" lengthAdjust="spacingAndGlyphs" fill="#000" stroke="#000" stroke-width="0.14">TK1</text>
<text x="138.6" y="402.81" font-size="9.25" textLength="19.20" lengthAdjust="spacingAndGlyphs" fill="none" stroke="#efefef" stroke-width="1.4" stroke-linejoin="round">LIG1</text>
<text x="138.6" y="402.81" font-size="9.25" textLength="19.20" lengthAdjust="spacingAndGlyphs" fill="#000" stroke="#000" stroke-width="0.14">LIG1</text>
<text x="202.6" y="407.61" font-size="9.25" textLength="28.00" lengthAdjust="spacingAndGlyphs" fill="none" stroke="#efefef" stroke-width="1.4" stroke-linejoin="round">TAOK2</text>
<text x="202.6" y="407.61" font-size="9.25" textLength="28.00" lengthAdjust="spacingAndGlyphs" fill="#000" stroke="#000" stroke-width="0.14">TAOK2</text>
<text x="69.1" y="439.01" font-size="9.25" textLength="25.80" lengthAdjust="spacingAndGlyphs" fill="none" stroke="#efefef" stroke-width="1.4" stroke-linejoin="round">MDC1</text>
<text x="69.1" y="439.01" font-size="9.25" textLength="25.80" lengthAdjust="spacingAndGlyphs" fill="#000" stroke="#000" stroke-width="0.14">MDC1</text>
<text x="50.7" y="454.41" font-size="9.25" textLength="34.70" lengthAdjust="spacingAndGlyphs" fill="none" stroke="#efefef" stroke-width="1.4" stroke-linejoin="round">IQGAP3</text>
<text x="50.7" y="454.41" font-size="9.25" textLength="34.70" lengthAdjust="spacingAndGlyphs" fill="#000" stroke="#000" stroke-width="0.14">IQGAP3</text>
<text x="20.0" y="503.51" font-size="9.25" textLength="29.00" lengthAdjust="spacingAndGlyphs" fill="none" stroke="#efefef" stroke-width="1.4" stroke-linejoin="round">GTSE1</text>
<text x="20.0" y="503.51" font-size="9.25" textLength="29.00" lengthAdjust="spacingAndGlyphs" fill="#000" stroke="#000" stroke-width="0.14">GTSE1</text>
<text x="31.0" y="520.31" font-size="9.25" textLength="36.60" lengthAdjust="spacingAndGlyphs" fill="none" stroke="#efefef" stroke-width="1.4" stroke-linejoin="round">CDC25A</text>
<text x="31.0" y="520.31" font-size="9.25" textLength="36.60" lengthAdjust="spacingAndGlyphs" fill="#000" stroke="#000" stroke-width="0.14">CDC25A</text>
<text x="31.0" y="570.61" font-size="9.25" textLength="29.60" lengthAdjust="spacingAndGlyphs" fill="none" stroke="#efefef" stroke-width="1.4" stroke-linejoin="round">DBF4B</text>
<text x="31.0" y="570.61" font-size="9.25" textLength="29.60" lengthAdjust="spacingAndGlyphs" fill="#000" stroke="#000" stroke-width="0.14">DBF4B</text>
<text x="19.3" y="610.91" font-size="9.25" textLength="35.70" lengthAdjust="spacingAndGlyphs" fill="none" stroke="#efefef" stroke-width="1.4" stroke-linejoin="round">ANGEL2</text>
<text x="19.3" y="610.91" font-size="9.25" textLength="35.70" lengthAdjust="spacingAndGlyphs" fill="#000" stroke="#000" stroke-width="0.14">ANGEL2</text>
<text x="290.9" y="443.61" font-size="9.25" textLength="30.60" lengthAdjust="spacingAndGlyphs" fill="none" stroke="#efefef" stroke-width="1.4" stroke-linejoin="round">CENPA</text>
<text x="290.9" y="443.61" font-size="9.25" textLength="30.60" lengthAdjust="spacingAndGlyphs" fill="#000" stroke="#000" stroke-width="0.14">CENPA</text>
<text x="155.8" y="634.91" font-size="9.25" textLength="31.20" lengthAdjust="spacingAndGlyphs" fill="none" stroke="#efefef" stroke-width="1.4" stroke-linejoin="round">CCNB2</text>
<text x="155.8" y="634.91" font-size="9.25" textLength="31.20" lengthAdjust="spacingAndGlyphs" fill="#000" stroke="#000" stroke-width="0.14">CCNB2</text>
<text x="179.8" y="756.21" font-size="9.25" textLength="30.90" lengthAdjust="spacingAndGlyphs" fill="none" stroke="#efefef" stroke-width="1.4" stroke-linejoin="round">MTFR2</text>
<text x="179.8" y="756.21" font-size="9.25" textLength="30.90" lengthAdjust="spacingAndGlyphs" fill="#000" stroke="#000" stroke-width="0.14">MTFR2</text>
<text x="294.9" y="752.21" font-size="9.25" textLength="30.60" lengthAdjust="spacingAndGlyphs" fill="none" stroke="#efefef" stroke-width="1.4" stroke-linejoin="round">MYO19</text>
<text x="294.9" y="752.21" font-size="9.25" textLength="30.60" lengthAdjust="spacingAndGlyphs" fill="#000" stroke="#000" stroke-width="0.14">MYO19</text>
<text x="383.8" y="741.21" font-size="9.25" textLength="35.00" lengthAdjust="spacingAndGlyphs" fill="none" stroke="#efefef" stroke-width="1.4" stroke-linejoin="round">PEX11B</text>
<text x="383.8" y="741.21" font-size="9.25" textLength="35.00" lengthAdjust="spacingAndGlyphs" fill="#000" stroke="#000" stroke-width="0.14">PEX11B</text>
<text x="476.6" y="705.31" font-size="9.25" textLength="29.30" lengthAdjust="spacingAndGlyphs" fill="none" stroke="#efefef" stroke-width="1.4" stroke-linejoin="round">SRPK1</text>
<text x="476.6" y="705.31" font-size="9.25" textLength="29.30" lengthAdjust="spacingAndGlyphs" fill="#000" stroke="#000" stroke-width="0.14">SRPK1</text>
<text x="491.5" y="628.61" font-size="9.25" textLength="29.00" lengthAdjust="spacingAndGlyphs" fill="none" stroke="#efefef" stroke-width="1.4" stroke-linejoin="round">TOP2A</text>
<text x="491.5" y="628.61" font-size="9.25" textLength="29.00" lengthAdjust="spacingAndGlyphs" fill="#000" stroke="#000" stroke-width="0.14">TOP2A</text>
<text x="548.8" y="576.21" font-size="9.25" textLength="31.00" lengthAdjust="spacingAndGlyphs" fill="none" stroke="#efefef" stroke-width="1.4" stroke-linejoin="round">HJURP</text>
<text x="548.8" y="576.21" font-size="9.25" textLength="31.00" lengthAdjust="spacingAndGlyphs" fill="#000" stroke="#000" stroke-width="0.14">HJURP</text>
<text x="577.4" y="506.91" font-size="9.25" textLength="29.00" lengthAdjust="spacingAndGlyphs" fill="none" stroke="#efefef" stroke-width="1.4" stroke-linejoin="round">TELO2</text>
<text x="577.4" y="506.91" font-size="9.25" textLength="29.00" lengthAdjust="spacingAndGlyphs" fill="#000" stroke="#000" stroke-width="0.14">TELO2</text>
<text x="547.1" y="452.31" font-size="9.25" textLength="42.60" lengthAdjust="spacingAndGlyphs" fill="none" stroke="#efefef" stroke-width="1.4" stroke-linejoin="round">DCLRE1B</text>
<text x="547.1" y="452.31" font-size="9.25" textLength="42.60" lengthAdjust="spacingAndGlyphs" fill="#000" stroke="#000" stroke-width="0.14">DCLRE1B</text>
<text x="500.9" y="410.91" font-size="9.25" textLength="32.90" lengthAdjust="spacingAndGlyphs" fill="none" stroke="#efefef" stroke-width="1.4" stroke-linejoin="round">HMGB3</text>
<text x="500.9" y="410.91" font-size="9.25" textLength="32.90" lengthAdjust="spacingAndGlyphs" fill="#000" stroke="#000" stroke-width="0.14">HMGB3</text>
<text x="329.8" y="502.01" font-size="9.25" textLength="31.00" lengthAdjust="spacingAndGlyphs" fill="none" stroke="#efefef" stroke-width="1.4" stroke-linejoin="round">CCNB1</text>
<text x="329.8" y="502.01" font-size="9.25" textLength="31.00" lengthAdjust="spacingAndGlyphs" fill="#000" stroke="#000" stroke-width="0.14">CCNB1</text>
<text x="285.2" y="517.61" font-size="9.25" textLength="23.60" lengthAdjust="spacingAndGlyphs" fill="none" stroke="#efefef" stroke-width="1.4" stroke-linejoin="round">NEK2</text>
<text x="285.2" y="517.61" font-size="9.25" textLength="23.60" lengthAdjust="spacingAndGlyphs" fill="#000" stroke="#000" stroke-width="0.14">NEK2</text>
<text x="345.5" y="549.51" font-size="9.25" textLength="31.60" lengthAdjust="spacingAndGlyphs" fill="none" stroke="#efefef" stroke-width="1.4" stroke-linejoin="round">SMC1A</text>
<text x="345.5" y="549.51" font-size="9.25" textLength="31.60" lengthAdjust="spacingAndGlyphs" fill="#000" stroke="#000" stroke-width="0.14">SMC1A</text>
<text x="256.6" y="546.21" font-size="9.25" textLength="35.60" lengthAdjust="spacingAndGlyphs" fill="none" stroke="#efefef" stroke-width="1.4" stroke-linejoin="round">FANCD2</text>
<text x="256.6" y="546.21" font-size="9.25" textLength="35.60" lengthAdjust="spacingAndGlyphs" fill="#000" stroke="#000" stroke-width="0.14">FANCD2</text>
<text x="331.5" y="575.81" font-size="9.25" textLength="32.30" lengthAdjust="spacingAndGlyphs" fill="none" stroke="#efefef" stroke-width="1.4" stroke-linejoin="round">SPICE1</text>
<text x="331.5" y="575.81" font-size="9.25" textLength="32.30" lengthAdjust="spacingAndGlyphs" fill="#000" stroke="#000" stroke-width="0.14">SPICE1</text>
<text x="226.6" y="570.81" font-size="9.25" textLength="30.00" lengthAdjust="spacingAndGlyphs" fill="none" stroke="#efefef" stroke-width="1.4" stroke-linejoin="round">UBE2C</text>
<text x="226.6" y="570.81" font-size="9.25" textLength="30.00" lengthAdjust="spacingAndGlyphs" fill="#000" stroke="#000" stroke-width="0.14">UBE2C</text>
<text x="296.5" y="597.81" font-size="9.25" textLength="30.00" lengthAdjust="spacingAndGlyphs" fill="none" stroke="#efefef" stroke-width="1.4" stroke-linejoin="round">BUB1B</text>
<text x="296.5" y="597.81" font-size="9.25" textLength="30.00" lengthAdjust="spacingAndGlyphs" fill="#000" stroke="#000" stroke-width="0.14">BUB1B</text>
<text x="222.6" y="611.91" font-size="9.25" textLength="36.70" lengthAdjust="spacingAndGlyphs" fill="none" stroke="#efefef" stroke-width="1.4" stroke-linejoin="round">DLGAP5</text>
<text x="222.6" y="611.91" font-size="9.25" textLength="36.70" lengthAdjust="spacingAndGlyphs" fill="#000" stroke="#000" stroke-width="0.14">DLGAP5</text>
<text x="146.2" y="492.04" font-size="9.25" font-weight="bold" textLength="112.10" lengthAdjust="spacingAndGlyphs" fill="none" stroke="#fff" stroke-width="1.7" stroke-linejoin="round">mitotic cell cycle process</text>
<text x="146.2" y="492.04" font-size="9.25" font-weight="bold" textLength="112.10" lengthAdjust="spacingAndGlyphs" fill="#000" stroke="#000" stroke-width="0.15">mitotic cell cycle process</text>
<text x="127.5" y="523.54" font-size="9.25" font-weight="bold" textLength="73.90" lengthAdjust="spacingAndGlyphs" fill="none" stroke="#fff" stroke-width="1.7" stroke-linejoin="round">mitotic cell cycle</text>
<text x="127.5" y="523.54" font-size="9.25" font-weight="bold" textLength="73.90" lengthAdjust="spacingAndGlyphs" fill="#000" stroke="#000" stroke-width="0.15">mitotic cell cycle</text>
<text x="381.4" y="516.84" font-size="9.25" font-weight="bold" textLength="115.80" lengthAdjust="spacingAndGlyphs" fill="none" stroke="#fff" stroke-width="1.7" stroke-linejoin="round">chromosome organization</text>
<text x="381.4" y="516.84" font-size="9.25" font-weight="bold" textLength="115.80" lengthAdjust="spacingAndGlyphs" fill="#000" stroke="#000" stroke-width="0.15">chromosome organization</text>
<text x="308.2" y="628.14" font-size="9.25" font-weight="bold" textLength="113.20" lengthAdjust="spacingAndGlyphs" fill="none" stroke="#fff" stroke-width="1.7" stroke-linejoin="round">chromosome segregation</text>
<text x="308.2" y="628.14" font-size="9.25" font-weight="bold" textLength="113.20" lengthAdjust="spacingAndGlyphs" fill="#000" stroke="#000" stroke-width="0.15">chromosome segregation</text>
<text x="292.2" y="646.44" font-size="9.25" font-weight="bold" textLength="73.20" lengthAdjust="spacingAndGlyphs" fill="none" stroke="#fff" stroke-width="1.7" stroke-linejoin="round">organelle fission</text>
<text x="292.2" y="646.44" font-size="9.25" font-weight="bold" textLength="73.20" lengthAdjust="spacingAndGlyphs" fill="#000" stroke="#000" stroke-width="0.15">organelle fission</text>
<text x="628.80" y="499.02" font-size="9.0" text-anchor="start" fill="#000" stroke="#000" stroke-width="0.12">size</text>
<circle cx="637.1" cy="512.7" r="5.8" fill="#dcb67f"/>
<text x="652.30" y="515.92" font-size="9.0" text-anchor="start" fill="#000" stroke="#000" stroke-width="0.12">5</text>
<circle cx="637.1" cy="529.1" r="7.3" fill="#dcb67f"/>
<text x="652.30" y="532.32" font-size="9.0" text-anchor="start" fill="#000" stroke="#000" stroke-width="0.12">10</text>
<circle cx="637.1" cy="547.5" r="8.3" fill="#dcb67f"/>
<text x="652.30" y="550.72" font-size="9.0" text-anchor="start" fill="#000" stroke="#000" stroke-width="0.12">15</text>
<text x="627.30" y="572.42" font-size="9.0" text-anchor="start" fill="#000" stroke="#000" stroke-width="0.12">fold change</text>
<rect x="627.1" y="578.7" width="17.1" height="81.2" fill="url(#gfc)"/>
<line x1="627.1" y1="593.9" x2="630.4" y2="593.9" stroke="#fff" stroke-width="0.5"/>
<line x1="640.9" y1="593.9" x2="644.2" y2="593.9" stroke="#fff" stroke-width="0.5"/>
<text x="649.10" y="597.32" font-size="9.0" text-anchor="start" fill="#000" stroke="#000" stroke-width="0.12">−1</text>
<line x1="627.1" y1="621.0" x2="630.4" y2="621.0" stroke="#fff" stroke-width="0.5"/>
<line x1="640.9" y1="621.0" x2="644.2" y2="621.0" stroke="#fff" stroke-width="0.5"/>
<text x="649.10" y="624.42" font-size="9.0" text-anchor="start" fill="#000" stroke="#000" stroke-width="0.12">−2</text>
<line x1="627.1" y1="648.4" x2="630.4" y2="648.4" stroke="#fff" stroke-width="0.5"/>
<line x1="640.9" y1="648.4" x2="644.2" y2="648.4" stroke="#fff" stroke-width="0.5"/>
<text x="649.10" y="651.82" font-size="9.0" text-anchor="start" fill="#000" stroke="#000" stroke-width="0.12">−3</text>
<path d="M43.7 802.8V921.5H222.8" fill="none" stroke="#1a1a1a" stroke-width="1.0"/>
<line x1="39.300000000000004" y1="921.50" x2="44.2" y2="921.50" stroke="#1a1a1a" stroke-width="1.0"/>
<text x="35.40" y="924.31" font-size="8.7" text-anchor="end" fill="#000" stroke="#000" stroke-width="0.12">0.0</text>
<line x1="39.300000000000004" y1="882.10" x2="44.2" y2="882.10" stroke="#1a1a1a" stroke-width="1.0"/>
<text x="35.40" y="884.91" font-size="8.7" text-anchor="end" fill="#000" stroke="#000" stroke-width="0.12">0.5</text>
<line x1="39.300000000000004" y1="842.70" x2="44.2" y2="842.70" stroke="#1a1a1a" stroke-width="1.0"/>
<text x="35.40" y="845.51" font-size="8.7" text-anchor="end" fill="#000" stroke="#000" stroke-width="0.12">1.0</text>
<line x1="39.300000000000004" y1="803.30" x2="44.2" y2="803.30" stroke="#1a1a1a" stroke-width="1.0"/>
<text x="35.40" y="806.11" font-size="8.7" text-anchor="end" fill="#000" stroke="#000" stroke-width="0.12">1.5</text>
<line x1="76.9" y1="921.5" x2="76.9" y2="917.6" stroke="#1a1a1a" stroke-width="0.9"/>
<line x1="114.1" y1="921.5" x2="114.1" y2="917.6" stroke="#1a1a1a" stroke-width="0.9"/>
<line x1="151.3" y1="921.5" x2="151.3" y2="917.6" stroke="#1a1a1a" stroke-width="0.9"/>
<line x1="188.6" y1="921.5" x2="188.6" y2="917.6" stroke="#1a1a1a" stroke-width="0.9"/>
<text x="14.60" y="863.26" font-size="9.1" text-anchor="middle" fill="#000" stroke="#000" stroke-width="0.12" transform="rotate(-90 14.60 860.00)">Fold change</text>
<rect x="48.45" y="842.70" width="7.4" height="78.80" fill="#fff" stroke="#3a5fb4" stroke-width="1.05"/>
<path d="M52.15 827.96V857.44M50.05 827.96h4.2M50.05 857.44h4.2" stroke="#3a5fb4" stroke-width="1.05" fill="none"/>
<circle cx="51.90" cy="822.40" r="1.2" fill="#3a5fb4"/>
<circle cx="51.90" cy="835.70" r="1.2" fill="#3a5fb4"/>
<circle cx="52.90" cy="841.90" r="1.2" fill="#3a5fb4"/>
<circle cx="49.20" cy="856.10" r="1.2" fill="#3a5fb4"/>
<circle cx="54.40" cy="856.10" r="1.2" fill="#3a5fb4"/>
<rect x="61.15" y="861.61" width="7.4" height="59.89" fill="#fff" stroke="#e8283c" stroke-width="1.05"/>
<path d="M64.85 853.18V870.04M62.75 853.18h4.2M62.75 870.04h4.2" stroke="#e8283c" stroke-width="1.05" fill="none"/>
<circle cx="64.40" cy="849.10" r="1.2" fill="#e8283c"/>
<circle cx="62.90" cy="861.60" r="1.2" fill="#e8283c"/>
<circle cx="66.20" cy="862.90" r="1.2" fill="#e8283c"/>
<circle cx="64.40" cy="866.90" r="1.2" fill="#e8283c"/>
<circle cx="65.40" cy="870.60" r="1.2" fill="#e8283c"/>
<rect x="85.75" y="842.70" width="7.4" height="78.80" fill="#fff" stroke="#3a5fb4" stroke-width="1.05"/>
<path d="M89.45 834.82V850.58M87.35 834.82h4.2M87.35 850.58h4.2" stroke="#3a5fb4" stroke-width="1.05" fill="none"/>
<circle cx="89.10" cy="831.20" r="1.2" fill="#3a5fb4"/>
<circle cx="89.90" cy="834.90" r="1.2" fill="#3a5fb4"/>
<circle cx="89.10" cy="842.40" r="1.2" fill="#3a5fb4"/>
<circle cx="90.40" cy="847.40" r="1.2" fill="#3a5fb4"/>
<circle cx="89.10" cy="853.60" r="1.2" fill="#3a5fb4"/>
<rect x="98.35" y="867.13" width="7.4" height="54.37" fill="#fff" stroke="#e8283c" stroke-width="1.05"/>
<path d="M102.05 858.46V875.80M99.95 858.46h4.2M99.95 875.80h4.2" stroke="#e8283c" stroke-width="1.05" fill="none"/>
<circle cx="101.60" cy="852.90" r="1.2" fill="#e8283c"/>
<circle cx="101.10" cy="862.40" r="1.2" fill="#e8283c"/>
<circle cx="102.30" cy="864.90" r="1.2" fill="#e8283c"/>
<circle cx="100.30" cy="872.40" r="1.2" fill="#e8283c"/>
<circle cx="101.60" cy="879.30" r="1.2" fill="#e8283c"/>
<rect x="122.75" y="842.70" width="7.4" height="78.80" fill="#fff" stroke="#3a5fb4" stroke-width="1.05"/>
<path d="M126.45 830.49V854.91M124.35 830.49h4.2M124.35 854.91h4.2" stroke="#3a5fb4" stroke-width="1.05" fill="none"/>
<circle cx="126.10" cy="823.70" r="1.2" fill="#3a5fb4"/>
<circle cx="126.60" cy="836.20" r="1.2" fill="#3a5fb4"/>
<circle cx="127.30" cy="847.40" r="1.2" fill="#3a5fb4"/>
<circle cx="124.10" cy="852.40" r="1.2" fill="#3a5fb4"/>
<circle cx="129.10" cy="854.40" r="1.2" fill="#3a5fb4"/>
<rect x="135.25" y="865.55" width="7.4" height="55.95" fill="#fff" stroke="#e8283c" stroke-width="1.05"/>
<path d="M138.95 858.07V873.04M136.85 858.07h4.2M136.85 873.04h4.2" stroke="#e8283c" stroke-width="1.05" fill="none"/>
<circle cx="138.50" cy="852.40" r="1.2" fill="#e8283c"/>
<circle cx="139.00" cy="861.10" r="1.2" fill="#e8283c"/>
<circle cx="137.80" cy="866.10" r="1.2" fill="#e8283c"/>
<circle cx="139.80" cy="871.10" r="1.2" fill="#e8283c"/>
<circle cx="139.00" cy="875.60" r="1.2" fill="#e8283c"/>
<rect x="159.95" y="842.70" width="7.4" height="78.80" fill="#fff" stroke="#3a5fb4" stroke-width="1.05"/>
<path d="M163.65 830.88V854.52M161.55 830.88h4.2M161.55 854.52h4.2" stroke="#3a5fb4" stroke-width="1.05" fill="none"/>
<circle cx="160.70" cy="831.20" r="1.2" fill="#3a5fb4"/>
<circle cx="166.90" cy="831.90" r="1.2" fill="#3a5fb4"/>
<circle cx="163.70" cy="841.90" r="1.2" fill="#3a5fb4"/>
<circle cx="163.20" cy="854.40" r="1.2" fill="#3a5fb4"/>
<circle cx="163.70" cy="857.90" r="1.2" fill="#3a5fb4"/>
<rect x="172.35" y="862.01" width="7.4" height="59.49" fill="#fff" stroke="#e8283c" stroke-width="1.05"/>
<path d="M176.05 858.22V865.79M173.95 858.22h4.2M173.95 865.79h4.2" stroke="#e8283c" stroke-width="1.05" fill="none"/>
<circle cx="176.20" cy="855.40" r="1.2" fill="#e8283c"/>
<circle cx="174.40" cy="859.90" r="1.2" fill="#e8283c"/>
<circle cx="177.90" cy="860.40" r="1.2" fill="#e8283c"/>
<circle cx="174.40" cy="865.40" r="1.2" fill="#e8283c"/>
<circle cx="177.90" cy="866.10" r="1.2" fill="#e8283c"/>
<rect x="197.05" y="842.70" width="7.4" height="78.80" fill="#fff" stroke="#3a5fb4" stroke-width="1.05"/>
<path d="M200.75 834.82V850.58M198.65 834.82h4.2M198.65 850.58h4.2" stroke="#3a5fb4" stroke-width="1.05" fill="none"/>
<circle cx="201.10" cy="828.20" r="1.2" fill="#3a5fb4"/>
<circle cx="197.90" cy="842.40" r="1.2" fill="#3a5fb4"/>
<circle cx="202.90" cy="842.90" r="1.2" fill="#3a5fb4"/>
<circle cx="200.40" cy="847.40" r="1.2" fill="#3a5fb4"/>
<circle cx="201.10" cy="850.40" r="1.2" fill="#3a5fb4"/>
<rect x="209.55" y="860.43" width="7.4" height="61.07" fill="#fff" stroke="#e8283c" stroke-width="1.05"/>
<path d="M213.25 852.94V867.92M211.15 852.94h4.2M211.15 867.92h4.2" stroke="#e8283c" stroke-width="1.05" fill="none"/>
<circle cx="213.10" cy="849.40" r="1.2" fill="#e8283c"/>
<circle cx="213.60" cy="852.90" r="1.2" fill="#e8283c"/>
<circle cx="211.10" cy="861.90" r="1.2" fill="#e8283c"/>
<circle cx="215.30" cy="862.90" r="1.2" fill="#e8283c"/>
<circle cx="213.10" cy="869.90" r="1.2" fill="#e8283c"/>
<text x="48.70" y="815.16" font-size="7.7" textLength="32.40" lengthAdjust="spacingAndGlyphs" fill="#000" stroke="#000" stroke-width="0.12">p=0.0357</text>
<line x1="52.4" y1="817.4" x2="65.4" y2="817.4" stroke="#1a1a1a" stroke-width="0.8"/>
<text x="76.90" y="825.16" font-size="7.7" textLength="32.20" lengthAdjust="spacingAndGlyphs" fill="#000" stroke="#000" stroke-width="0.12">p=0.0036</text>
<line x1="89.1" y1="827.9" x2="102.3" y2="827.9" stroke="#1a1a1a" stroke-width="0.8"/>
<text x="116.10" y="816.46" font-size="7.7" textLength="32.40" lengthAdjust="spacingAndGlyphs" fill="#000" stroke="#000" stroke-width="0.12">p=0.0108</text>
<line x1="126.0" y1="819.2" x2="139.8" y2="819.2" stroke="#1a1a1a" stroke-width="0.8"/>
<text x="152.40" y="822.76" font-size="7.7" textLength="32.00" lengthAdjust="spacingAndGlyphs" fill="#000" stroke="#000" stroke-width="0.12">p=0.0123</text>
<line x1="162.9" y1="825.0" x2="176.2" y2="825.0" stroke="#1a1a1a" stroke-width="0.8"/>
<text x="193.10" y="822.76" font-size="7.7" textLength="32.20" lengthAdjust="spacingAndGlyphs" fill="#000" stroke="#000" stroke-width="0.12">p=0.0120</text>
<line x1="201.6" y1="825.0" x2="214.3" y2="825.0" stroke="#1a1a1a" stroke-width="0.8"/>
<text x="114.10" y="802.35" font-size="8.8" textLength="30.70" lengthAdjust="spacingAndGlyphs" fill="#000" stroke="#000" stroke-width="0.12">SKOV3</text>
<rect x="153.2" y="790.4" width="17.8" height="7.8" fill="#fff" stroke="#3a5fb4" stroke-width="0.9"/>
<rect x="153.2" y="800.1999999999999" width="17.8" height="7.6" fill="#fff" stroke="#e8283c" stroke-width="0.9"/>
<text x="176.30" y="796.92" font-size="9.0" textLength="22.90" lengthAdjust="spacingAndGlyphs" fill="#000" stroke="#000" stroke-width="0.12">pLKO</text>
<text x="176.30" y="806.52" font-size="9.0" textLength="43.00" lengthAdjust="spacingAndGlyphs" fill="#000" stroke="#000" stroke-width="0.12">shSAT1#1</text>
<text x="12.00" y="933.76" font-size="7.7" textLength="34.20" lengthAdjust="spacingAndGlyphs" fill="#000" stroke="#000" stroke-width="0.12">promoter:</text>
<text x="61.30" y="933.76" font-size="7.7" text-anchor="middle" fill="#000" stroke="#000" stroke-width="0.12">CCNB1</text>
<text x="98.00" y="933.76" font-size="7.7" text-anchor="middle" fill="#000" stroke="#000" stroke-width="0.12">BUB1B</text>
<text x="134.40" y="933.76" font-size="7.7" text-anchor="middle" fill="#000" stroke="#000" stroke-width="0.12">FANCD2</text>
<text x="170.90" y="933.76" font-size="7.7" text-anchor="middle" fill="#000" stroke="#000" stroke-width="0.12">CENPA</text>
<text x="207.40" y="933.76" font-size="7.7" text-anchor="middle" fill="#000" stroke="#000" stroke-width="0.12">TOP2A</text>
<path d="M274.9 802.8V921.5H454.1" fill="none" stroke="#1a1a1a" stroke-width="1.0"/>
<line x1="270.5" y1="921.50" x2="275.4" y2="921.50" stroke="#1a1a1a" stroke-width="1.0"/>
<text x="266.00" y="924.31" font-size="8.7" text-anchor="end" fill="#000" stroke="#000" stroke-width="0.12">0.0</text>
<line x1="270.5" y1="882.10" x2="275.4" y2="882.10" stroke="#1a1a1a" stroke-width="1.0"/>
<text x="266.00" y="884.91" font-size="8.7" text-anchor="end" fill="#000" stroke="#000" stroke-width="0.12">0.5</text>
<line x1="270.5" y1="842.70" x2="275.4" y2="842.70" stroke="#1a1a1a" stroke-width="1.0"/>
<text x="266.00" y="845.51" font-size="8.7" text-anchor="end" fill="#000" stroke="#000" stroke-width="0.12">1.0</text>
<line x1="270.5" y1="803.30" x2="275.4" y2="803.30" stroke="#1a1a1a" stroke-width="1.0"/>
<text x="266.00" y="806.11" font-size="8.7" text-anchor="end" fill="#000" stroke="#000" stroke-width="0.12">1.5</text>
<line x1="307.9" y1="921.5" x2="307.9" y2="917.6" stroke="#1a1a1a" stroke-width="0.9"/>
<line x1="344.8" y1="921.5" x2="344.8" y2="917.6" stroke="#1a1a1a" stroke-width="0.9"/>
<line x1="382.3" y1="921.5" x2="382.3" y2="917.6" stroke="#1a1a1a" stroke-width="0.9"/>
<line x1="419.9" y1="921.5" x2="419.9" y2="917.6" stroke="#1a1a1a" stroke-width="0.9"/>
<text x="245.60" y="863.26" font-size="9.1" text-anchor="middle" fill="#000" stroke="#000" stroke-width="0.12" transform="rotate(-90 245.60 860.00)">Fold change</text>
<rect x="279.35" y="842.70" width="7.4" height="78.80" fill="#fff" stroke="#3a5fb4" stroke-width="1.05"/>
<path d="M283.05 837.58V847.82M280.95 837.58h4.2M280.95 847.82h4.2" stroke="#3a5fb4" stroke-width="1.05" fill="none"/>
<circle cx="282.90" cy="834.40" r="1.2" fill="#3a5fb4"/>
<circle cx="279.90" cy="840.40" r="1.2" fill="#3a5fb4"/>
<circle cx="285.40" cy="840.40" r="1.2" fill="#3a5fb4"/>
<circle cx="281.20" cy="844.90" r="1.2" fill="#3a5fb4"/>
<circle cx="282.90" cy="849.90" r="1.2" fill="#3a5fb4"/>
<rect x="291.65" y="864.37" width="7.4" height="57.13" fill="#fff" stroke="#e8283c" stroke-width="1.05"/>
<path d="M295.35 852.94V875.80M293.25 852.94h4.2M293.25 875.80h4.2" stroke="#e8283c" stroke-width="1.05" fill="none"/>
<circle cx="292.40" cy="851.90" r="1.2" fill="#e8283c"/>
<circle cx="298.60" cy="851.90" r="1.2" fill="#e8283c"/>
<circle cx="295.40" cy="866.10" r="1.2" fill="#e8283c"/>
<circle cx="296.20" cy="871.10" r="1.2" fill="#e8283c"/>
<circle cx="295.40" cy="875.60" r="1.2" fill="#e8283c"/>
<rect x="316.55" y="842.70" width="7.4" height="78.80" fill="#fff" stroke="#3a5fb4" stroke-width="1.05"/>
<path d="M320.25 835.21V850.19M318.15 835.21h4.2M318.15 850.19h4.2" stroke="#3a5fb4" stroke-width="1.05" fill="none"/>
<circle cx="319.90" cy="831.90" r="1.2" fill="#3a5fb4"/>
<circle cx="320.40" cy="836.20" r="1.2" fill="#3a5fb4"/>
<circle cx="317.40" cy="843.60" r="1.2" fill="#3a5fb4"/>
<circle cx="322.90" cy="843.60" r="1.2" fill="#3a5fb4"/>
<circle cx="320.40" cy="853.60" r="1.2" fill="#3a5fb4"/>
<rect x="329.05" y="862.01" width="7.4" height="59.49" fill="#fff" stroke="#e8283c" stroke-width="1.05"/>
<path d="M332.75 856.49V867.52M330.65 856.49h4.2M330.65 867.52h4.2" stroke="#e8283c" stroke-width="1.05" fill="none"/>
<circle cx="332.30" cy="852.90" r="1.2" fill="#e8283c"/>
<circle cx="332.80" cy="857.40" r="1.2" fill="#e8283c"/>
<circle cx="331.80" cy="862.90" r="1.2" fill="#e8283c"/>
<circle cx="332.80" cy="866.10" r="1.2" fill="#e8283c"/>
<circle cx="332.30" cy="869.40" r="1.2" fill="#e8283c"/>
<rect x="353.55" y="842.70" width="7.4" height="78.80" fill="#fff" stroke="#3a5fb4" stroke-width="1.05"/>
<path d="M357.25 830.49V854.91M355.15 830.49h4.2M355.15 854.91h4.2" stroke="#3a5fb4" stroke-width="1.05" fill="none"/>
<circle cx="357.30" cy="826.20" r="1.2" fill="#3a5fb4"/>
<circle cx="354.10" cy="838.70" r="1.2" fill="#3a5fb4"/>
<circle cx="360.30" cy="837.40" r="1.2" fill="#3a5fb4"/>
<circle cx="354.80" cy="854.40" r="1.2" fill="#3a5fb4"/>
<circle cx="359.80" cy="854.40" r="1.2" fill="#3a5fb4"/>
<rect x="365.95" y="860.43" width="7.4" height="61.07" fill="#fff" stroke="#e8283c" stroke-width="1.05"/>
<path d="M369.65 852.55V868.31M367.55 852.55h4.2M367.55 868.31h4.2" stroke="#e8283c" stroke-width="1.05" fill="none"/>
<circle cx="369.80" cy="848.60" r="1.2" fill="#e8283c"/>
<circle cx="370.30" cy="852.40" r="1.2" fill="#e8283c"/>
<circle cx="369.80" cy="861.10" r="1.2" fill="#e8283c"/>
<circle cx="369.30" cy="866.10" r="1.2" fill="#e8283c"/>
<circle cx="369.80" cy="869.90" r="1.2" fill="#e8283c"/>
<rect x="390.95" y="842.70" width="7.4" height="78.80" fill="#fff" stroke="#3a5fb4" stroke-width="1.05"/>
<path d="M394.65 829.30V856.10M392.55 829.30h4.2M392.55 856.10h4.2" stroke="#3a5fb4" stroke-width="1.05" fill="none"/>
<circle cx="394.40" cy="825.70" r="1.2" fill="#3a5fb4"/>
<circle cx="391.20" cy="848.10" r="1.2" fill="#3a5fb4"/>
<circle cx="397.40" cy="848.10" r="1.2" fill="#3a5fb4"/>
<circle cx="394.90" cy="855.40" r="1.2" fill="#3a5fb4"/>
<circle cx="394.40" cy="857.90" r="1.2" fill="#3a5fb4"/>
<rect x="403.35" y="858.07" width="7.4" height="63.43" fill="#fff" stroke="#e8283c" stroke-width="1.05"/>
<path d="M407.05 852.55V863.58M404.95 852.55h4.2M404.95 863.58h4.2" stroke="#e8283c" stroke-width="1.05" fill="none"/>
<circle cx="404.20" cy="852.90" r="1.2" fill="#e8283c"/>
<circle cx="410.40" cy="852.90" r="1.2" fill="#e8283c"/>
<circle cx="406.90" cy="858.60" r="1.2" fill="#e8283c"/>
<circle cx="406.20" cy="862.40" r="1.2" fill="#e8283c"/>
<circle cx="406.90" cy="864.90" r="1.2" fill="#e8283c"/>
<rect x="428.35" y="842.70" width="7.4" height="78.80" fill="#fff" stroke="#3a5fb4" stroke-width="1.05"/>
<path d="M432.05 829.70V855.70M429.95 829.70h4.2M429.95 855.70h4.2" stroke="#3a5fb4" stroke-width="1.05" fill="none"/>
<circle cx="431.90" cy="823.70" r="1.2" fill="#3a5fb4"/>
<circle cx="431.90" cy="836.20" r="1.2" fill="#3a5fb4"/>
<circle cx="432.90" cy="842.40" r="1.2" fill="#3a5fb4"/>
<circle cx="431.10" cy="852.40" r="1.2" fill="#3a5fb4"/>
<circle cx="432.40" cy="856.10" r="1.2" fill="#3a5fb4"/>
<rect x="440.75" y="862.40" width="7.4" height="59.10" fill="#fff" stroke="#e8283c" stroke-width="1.05"/>
<path d="M444.45 851.37V873.43M442.35 851.37h4.2M442.35 873.43h4.2" stroke="#e8283c" stroke-width="1.05" fill="none"/>
<circle cx="444.30" cy="843.10" r="1.2" fill="#e8283c"/>
<circle cx="441.80" cy="862.90" r="1.2" fill="#e8283c"/>
<circle cx="447.30" cy="866.10" r="1.2" fill="#e8283c"/>
<circle cx="443.60" cy="869.90" r="1.2" fill="#e8283c"/>
<circle cx="446.10" cy="869.90" r="1.2" fill="#e8283c"/>
<text x="276.90" y="825.16" font-size="7.7" textLength="31.70" lengthAdjust="spacingAndGlyphs" fill="#000" stroke="#000" stroke-width="0.12">p=0.0058</text>
<line x1="284.9" y1="827.4" x2="297.4" y2="827.4" stroke="#1a1a1a" stroke-width="0.8"/>
<text x="312.40" y="824.46" font-size="7.7" textLength="31.70" lengthAdjust="spacingAndGlyphs" fill="#000" stroke="#000" stroke-width="0.12">p=0.0033</text>
<line x1="320.4" y1="826.7" x2="332.8" y2="826.7" stroke="#1a1a1a" stroke-width="0.8"/>
<text x="347.80" y="818.96" font-size="7.7" textLength="32.00" lengthAdjust="spacingAndGlyphs" fill="#000" stroke="#000" stroke-width="0.12">p=0.0299</text>
<line x1="356.8" y1="821.4" x2="369.8" y2="821.4" stroke="#1a1a1a" stroke-width="0.8"/>
<text x="385.40" y="820.16" font-size="7.7" textLength="32.00" lengthAdjust="spacingAndGlyphs" fill="#000" stroke="#000" stroke-width="0.12">p=0.0466</text>
<line x1="394.2" y1="822.4" x2="407.4" y2="822.4" stroke="#1a1a1a" stroke-width="0.8"/>
<text x="426.90" y="817.66" font-size="7.7" textLength="32.20" lengthAdjust="spacingAndGlyphs" fill="#000" stroke="#000" stroke-width="0.12">p=0.0326</text>
<line x1="436.1" y1="820.2" x2="444.8" y2="820.2" stroke="#1a1a1a" stroke-width="0.8"/>
<text x="347.30" y="801.85" font-size="8.8" textLength="41.20" lengthAdjust="spacingAndGlyphs" fill="#000" stroke="#000" stroke-width="0.12">OVCA433</text>
<rect x="394.3" y="789.5" width="17.8" height="7.8" fill="#fff" stroke="#3a5fb4" stroke-width="0.9"/>
<rect x="394.3" y="799.3" width="17.8" height="7.6" fill="#fff" stroke="#e8283c" stroke-width="0.9"/>
<text x="417.40" y="796.02" font-size="9.0" textLength="22.90" lengthAdjust="spacingAndGlyphs" fill="#000" stroke="#000" stroke-width="0.12">pLKO</text>
<text x="417.40" y="805.62" font-size="9.0" textLength="43.00" lengthAdjust="spacingAndGlyphs" fill="#000" stroke="#000" stroke-width="0.12">shSAT1#1</text>
<text x="243.00" y="933.76" font-size="7.7" textLength="33.90" lengthAdjust="spacingAndGlyphs" fill="#000" stroke="#000" stroke-width="0.12">promoter:</text>
<text x="292.00" y="933.76" font-size="7.7" text-anchor="middle" fill="#000" stroke="#000" stroke-width="0.12">CCNB1</text>
<text x="328.60" y="933.76" font-size="7.7" text-anchor="middle" fill="#000" stroke="#000" stroke-width="0.12">BUB1B</text>
<text x="365.40" y="933.76" font-size="7.7" text-anchor="middle" fill="#000" stroke="#000" stroke-width="0.12">FANCD2</text>
<text x="401.50" y="933.76" font-size="7.7" text-anchor="middle" fill="#000" stroke="#000" stroke-width="0.12">CENPA</text>
<text x="438.10" y="933.76" font-size="7.7" text-anchor="middle" fill="#000" stroke="#000" stroke-width="0.12">TOP2A</text>
<path d="M501.6 802.8V921.5H680.0" fill="none" stroke="#1a1a1a" stroke-width="1.0"/>
<line x1="497.20000000000005" y1="921.50" x2="502.1" y2="921.50" stroke="#1a1a1a" stroke-width="1.0"/>
<text x="493.90" y="924.31" font-size="8.7" text-anchor="end" fill="#000" stroke="#000" stroke-width="0.12">0.0</text>
<line x1="497.20000000000005" y1="882.10" x2="502.1" y2="882.10" stroke="#1a1a1a" stroke-width="1.0"/>
<text x="493.90" y="884.91" font-size="8.7" text-anchor="end" fill="#000" stroke="#000" stroke-width="0.12">0.5</text>
<line x1="497.20000000000005" y1="842.70" x2="502.1" y2="842.70" stroke="#1a1a1a" stroke-width="1.0"/>
<text x="493.90" y="845.51" font-size="8.7" text-anchor="end" fill="#000" stroke="#000" stroke-width="0.12">1.0</text>
<line x1="497.20000000000005" y1="803.30" x2="502.1" y2="803.30" stroke="#1a1a1a" stroke-width="1.0"/>
<text x="493.90" y="806.11" font-size="8.7" text-anchor="end" fill="#000" stroke="#000" stroke-width="0.12">1.5</text>
<line x1="534.4" y1="921.5" x2="534.4" y2="917.6" stroke="#1a1a1a" stroke-width="0.9"/>
<line x1="571.6" y1="921.5" x2="571.6" y2="917.6" stroke="#1a1a1a" stroke-width="0.9"/>
<line x1="608.7" y1="921.5" x2="608.7" y2="917.6" stroke="#1a1a1a" stroke-width="0.9"/>
<line x1="646.3" y1="921.5" x2="646.3" y2="917.6" stroke="#1a1a1a" stroke-width="0.9"/>
<text x="473.80" y="863.26" font-size="9.1" text-anchor="middle" fill="#000" stroke="#000" stroke-width="0.12" transform="rotate(-90 473.80 860.00)">Fold change</text>
<rect x="505.85" y="842.70" width="7.4" height="78.80" fill="#fff" stroke="#3a5fb4" stroke-width="1.05"/>
<path d="M509.55 830.09V855.31M507.45 830.09h4.2M507.45 855.31h4.2" stroke="#3a5fb4" stroke-width="1.05" fill="none"/>
<circle cx="509.40" cy="826.20" r="1.2" fill="#3a5fb4"/>
<circle cx="505.70" cy="836.90" r="1.2" fill="#3a5fb4"/>
<circle cx="512.90" cy="838.70" r="1.2" fill="#3a5fb4"/>
<circle cx="508.70" cy="848.60" r="1.2" fill="#3a5fb4"/>
<circle cx="509.40" cy="858.60" r="1.2" fill="#3a5fb4"/>
<rect x="518.35" y="872.64" width="7.4" height="48.86" fill="#fff" stroke="#e8283c" stroke-width="1.05"/>
<path d="M522.05 868.31V876.98M519.95 868.31h4.2M519.95 876.98h4.2" stroke="#e8283c" stroke-width="1.05" fill="none"/>
<circle cx="521.70" cy="866.90" r="1.2" fill="#e8283c"/>
<circle cx="519.20" cy="871.10" r="1.2" fill="#e8283c"/>
<circle cx="524.40" cy="871.10" r="1.2" fill="#e8283c"/>
<circle cx="521.20" cy="874.90" r="1.2" fill="#e8283c"/>
<circle cx="521.90" cy="877.80" r="1.2" fill="#e8283c"/>
<rect x="543.35" y="842.70" width="7.4" height="78.80" fill="#fff" stroke="#3a5fb4" stroke-width="1.05"/>
<path d="M547.05 834.43V850.97M544.95 834.43h4.2M544.95 850.97h4.2" stroke="#3a5fb4" stroke-width="1.05" fill="none"/>
<circle cx="546.90" cy="830.40" r="1.2" fill="#3a5fb4"/>
<circle cx="547.40" cy="834.90" r="1.2" fill="#3a5fb4"/>
<circle cx="546.10" cy="841.90" r="1.2" fill="#3a5fb4"/>
<circle cx="547.90" cy="847.40" r="1.2" fill="#3a5fb4"/>
<circle cx="546.90" cy="851.10" r="1.2" fill="#3a5fb4"/>
<rect x="555.35" y="862.40" width="7.4" height="59.10" fill="#fff" stroke="#e8283c" stroke-width="1.05"/>
<path d="M559.05 856.88V867.92M556.95 856.88h4.2M556.95 867.92h4.2" stroke="#e8283c" stroke-width="1.05" fill="none"/>
<circle cx="559.10" cy="855.40" r="1.2" fill="#e8283c"/>
<circle cx="556.10" cy="861.10" r="1.2" fill="#e8283c"/>
<circle cx="562.30" cy="861.10" r="1.2" fill="#e8283c"/>
<circle cx="558.60" cy="866.10" r="1.2" fill="#e8283c"/>
<circle cx="559.30" cy="869.90" r="1.2" fill="#e8283c"/>
<rect x="580.25" y="842.70" width="7.4" height="78.80" fill="#fff" stroke="#3a5fb4" stroke-width="1.05"/>
<path d="M583.95 835.61V849.79M581.85 835.61h4.2M581.85 849.79h4.2" stroke="#3a5fb4" stroke-width="1.05" fill="none"/>
<circle cx="584.10" cy="833.70" r="1.2" fill="#3a5fb4"/>
<circle cx="581.10" cy="840.40" r="1.2" fill="#3a5fb4"/>
<circle cx="586.80" cy="840.40" r="1.2" fill="#3a5fb4"/>
<circle cx="583.60" cy="848.60" r="1.2" fill="#3a5fb4"/>
<circle cx="584.10" cy="854.40" r="1.2" fill="#3a5fb4"/>
<rect x="592.75" y="867.13" width="7.4" height="54.37" fill="#fff" stroke="#e8283c" stroke-width="1.05"/>
<path d="M596.45 857.67V876.58M594.35 857.67h4.2M594.35 876.58h4.2" stroke="#e8283c" stroke-width="1.05" fill="none"/>
<circle cx="596.00" cy="852.90" r="1.2" fill="#e8283c"/>
<circle cx="596.80" cy="861.10" r="1.2" fill="#e8283c"/>
<circle cx="596.00" cy="867.90" r="1.2" fill="#e8283c"/>
<circle cx="596.80" cy="872.40" r="1.2" fill="#e8283c"/>
<circle cx="596.00" cy="875.40" r="1.2" fill="#e8283c"/>
<rect x="617.65" y="842.70" width="7.4" height="78.80" fill="#fff" stroke="#3a5fb4" stroke-width="1.05"/>
<path d="M621.35 829.30V856.10M619.25 829.30h4.2M619.25 856.10h4.2" stroke="#3a5fb4" stroke-width="1.05" fill="none"/>
<circle cx="621.30" cy="820.40" r="1.2" fill="#3a5fb4"/>
<circle cx="621.30" cy="840.40" r="1.2" fill="#3a5fb4"/>
<circle cx="621.80" cy="847.40" r="1.2" fill="#3a5fb4"/>
<circle cx="620.80" cy="850.40" r="1.2" fill="#3a5fb4"/>
<circle cx="621.30" cy="854.90" r="1.2" fill="#3a5fb4"/>
<rect x="630.05" y="869.89" width="7.4" height="51.61" fill="#fff" stroke="#e8283c" stroke-width="1.05"/>
<path d="M633.75 857.28V882.49M631.65 857.28h4.2M631.65 882.49h4.2" stroke="#e8283c" stroke-width="1.05" fill="none"/>
<circle cx="633.80" cy="851.10" r="1.2" fill="#e8283c"/>
<circle cx="633.30" cy="869.90" r="1.2" fill="#e8283c"/>
<circle cx="634.60" cy="873.60" r="1.2" fill="#e8283c"/>
<circle cx="633.30" cy="878.60" r="1.2" fill="#e8283c"/>
<circle cx="634.30" cy="882.80" r="1.2" fill="#e8283c"/>
<rect x="654.75" y="842.70" width="7.4" height="78.80" fill="#fff" stroke="#3a5fb4" stroke-width="1.05"/>
<path d="M658.45 835.21V850.19M656.35 835.21h4.2M656.35 850.19h4.2" stroke="#3a5fb4" stroke-width="1.05" fill="none"/>
<circle cx="655.50" cy="834.40" r="1.2" fill="#3a5fb4"/>
<circle cx="661.30" cy="834.40" r="1.2" fill="#3a5fb4"/>
<circle cx="656.30" cy="843.60" r="1.2" fill="#3a5fb4"/>
<circle cx="660.80" cy="844.90" r="1.2" fill="#3a5fb4"/>
<circle cx="658.00" cy="849.40" r="1.2" fill="#3a5fb4"/>
<rect x="666.95" y="859.25" width="7.4" height="62.25" fill="#fff" stroke="#e8283c" stroke-width="1.05"/>
<path d="M670.65 854.13V864.37M668.55 854.13h4.2M668.55 864.37h4.2" stroke="#e8283c" stroke-width="1.05" fill="none"/>
<circle cx="670.80" cy="851.10" r="1.2" fill="#e8283c"/>
<circle cx="670.00" cy="855.40" r="1.2" fill="#e8283c"/>
<circle cx="671.30" cy="859.90" r="1.2" fill="#e8283c"/>
<circle cx="669.30" cy="862.90" r="1.2" fill="#e8283c"/>
<circle cx="670.80" cy="867.40" r="1.2" fill="#e8283c"/>
<text x="504.90" y="815.66" font-size="7.7" textLength="31.70" lengthAdjust="spacingAndGlyphs" fill="#000" stroke="#000" stroke-width="0.12">p=0.0011</text>
<line x1="510.4" y1="818.4" x2="522.9" y2="818.4" stroke="#1a1a1a" stroke-width="0.8"/>
<text x="541.10" y="823.16" font-size="7.7" textLength="32.00" lengthAdjust="spacingAndGlyphs" fill="#000" stroke="#000" stroke-width="0.12">p=0.0034</text>
<line x1="547.9" y1="826.2" x2="561.1" y2="826.2" stroke="#1a1a1a" stroke-width="0.8"/>
<text x="578.10" y="826.46" font-size="7.7" textLength="32.20" lengthAdjust="spacingAndGlyphs" fill="#000" stroke="#000" stroke-width="0.12">p=0.0023</text>
<line x1="584.8" y1="828.2" x2="597.3" y2="828.2" stroke="#1a1a1a" stroke-width="0.8"/>
<text x="610.10" y="815.16" font-size="7.7" textLength="32.00" lengthAdjust="spacingAndGlyphs" fill="#000" stroke="#000" stroke-width="0.12">p=0.0083</text>
<line x1="620.1" y1="817.0" x2="632.6" y2="817.0" stroke="#1a1a1a" stroke-width="0.8"/>
<text x="643.80" y="826.96" font-size="7.7" textLength="31.70" lengthAdjust="spacingAndGlyphs" fill="#000" stroke="#000" stroke-width="0.12">p=0.0051</text>
<line x1="655.0" y1="828.7" x2="667.5" y2="828.7" stroke="#1a1a1a" stroke-width="0.8"/>
<text x="580.60" y="800.65" font-size="8.8" textLength="18.70" lengthAdjust="spacingAndGlyphs" fill="#000" stroke="#000" stroke-width="0.12">HEY</text>
<rect x="607.2" y="786.4" width="17.8" height="7.8" fill="#fff" stroke="#3a5fb4" stroke-width="0.9"/>
<rect x="607.2" y="796.1999999999999" width="17.8" height="7.6" fill="#fff" stroke="#e8283c" stroke-width="0.9"/>
<text x="630.30" y="792.92" font-size="9.0" textLength="22.90" lengthAdjust="spacingAndGlyphs" fill="#000" stroke="#000" stroke-width="0.12">pLKO</text>
<text x="630.30" y="802.52" font-size="9.0" textLength="43.00" lengthAdjust="spacingAndGlyphs" fill="#000" stroke="#000" stroke-width="0.12">shSAT1#1</text>
<text x="470.70" y="933.76" font-size="7.7" textLength="34.20" lengthAdjust="spacingAndGlyphs" fill="#000" stroke="#000" stroke-width="0.12">promoter:</text>
<text x="520.30" y="933.76" font-size="7.7" text-anchor="middle" fill="#000" stroke="#000" stroke-width="0.12">CCNB1</text>
<text x="556.70" y="933.76" font-size="7.7" text-anchor="middle" fill="#000" stroke="#000" stroke-width="0.12">BUB1B</text>
<text x="593.20" y="933.76" font-size="7.7" text-anchor="middle" fill="#000" stroke="#000" stroke-width="0.12">FANCD2</text>
<text x="629.80" y="933.76" font-size="7.7" text-anchor="middle" fill="#000" stroke="#000" stroke-width="0.12">CENPA</text>
<text x="666.30" y="933.76" font-size="7.7" text-anchor="middle" fill="#000" stroke="#000" stroke-width="0.12">TOP2A</text>
</svg></body></html>
